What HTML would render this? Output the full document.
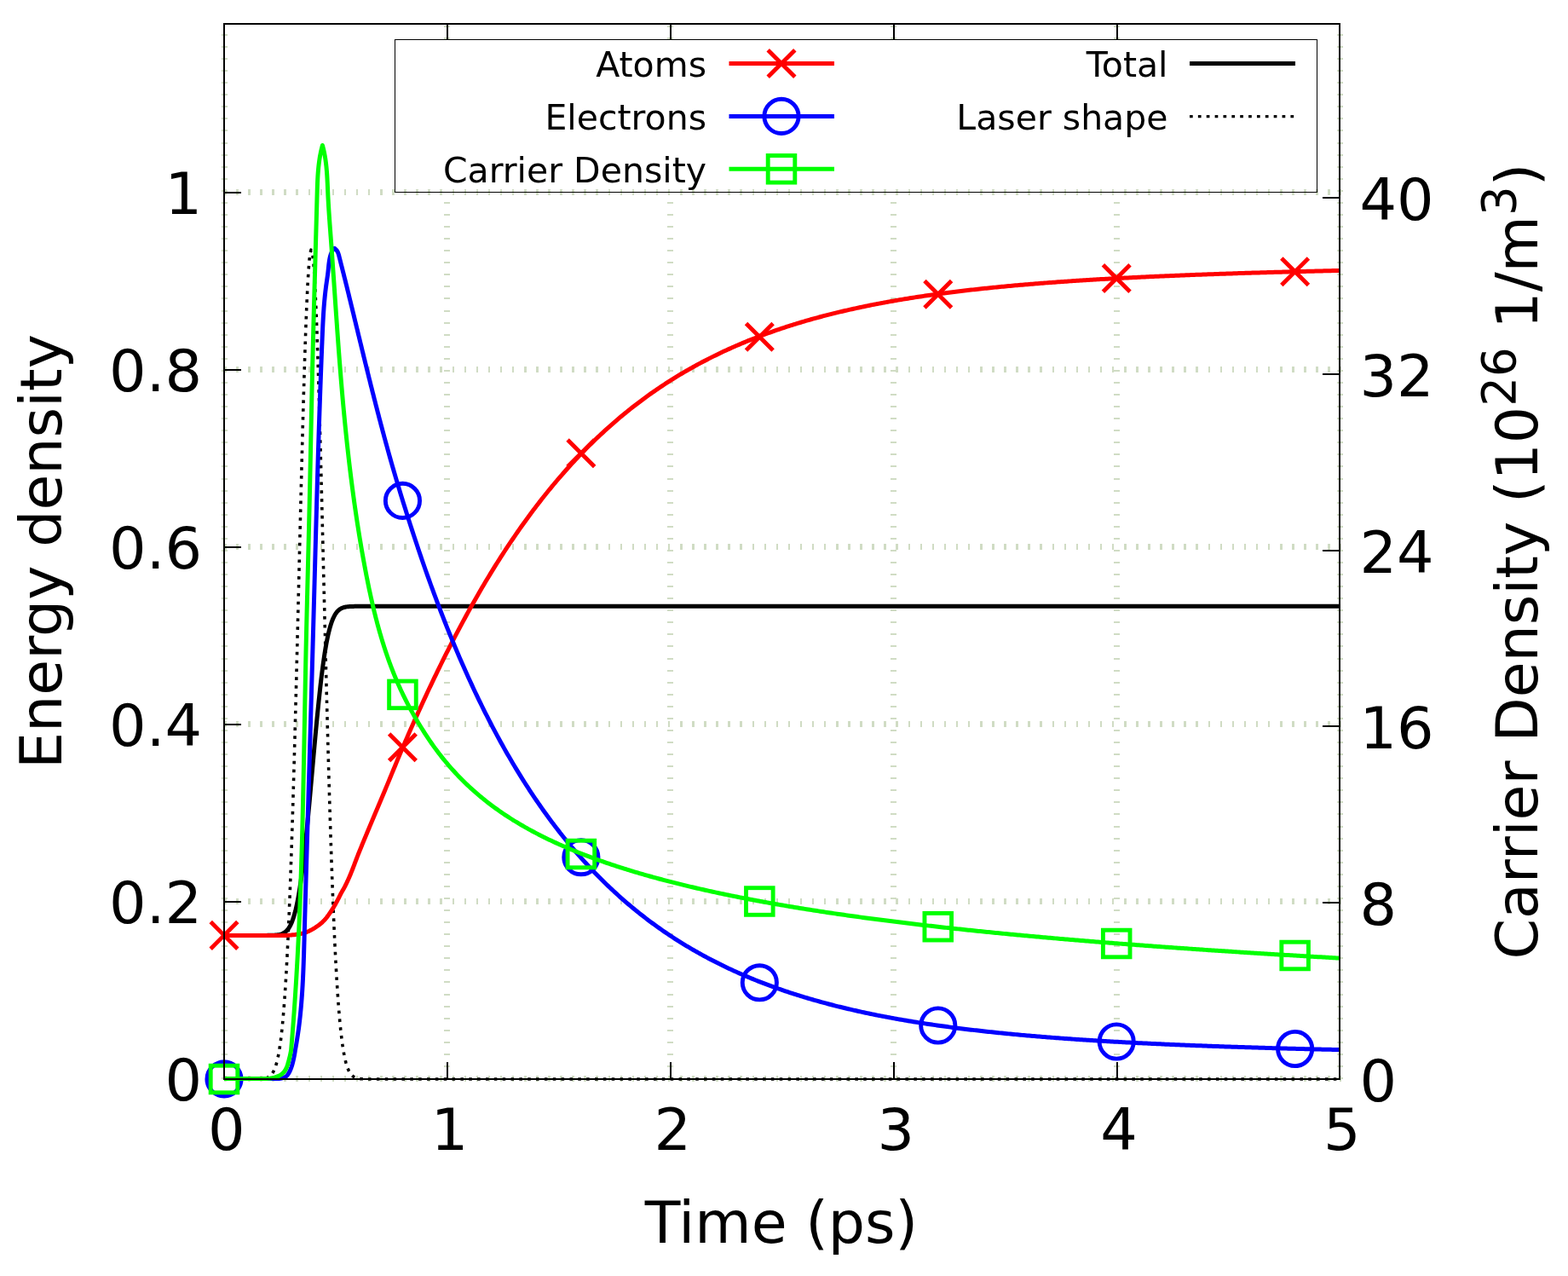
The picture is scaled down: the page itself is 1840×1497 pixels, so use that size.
<!DOCTYPE html>
<html lang="en">
<head>
<meta charset="utf-8">
<title>Energy density and carrier density vs time</title>
<style>
html,body{margin:0;padding:0;background:#ffffff;}
body{width:1840px;height:1497px;overflow:hidden;}
svg{display:block;}
</style>
</head>
<body>
<svg width="1840" height="1497" viewBox="0 0 1840 1497">
<rect width="1840" height="1497" fill="#ffffff"/>
<g stroke="#d0dcc4" stroke-width="7" fill="none" shape-rendering="crispEdges">
<path d="M263 1266V28" stroke-dasharray="2 12.07"/>
<path d="M524.8 1266V225.5M524.8 46.3V28" stroke-dasharray="2 12.07"/>
<path d="M786.6 1266V225.5M786.6 46.3V28" stroke-dasharray="2 12.07"/>
<path d="M1048.4 1266V225.5M1048.4 46.3V28" stroke-dasharray="2 12.07"/>
<path d="M1310.2 1266V225.5M1310.2 46.3V28" stroke-dasharray="2 12.07"/>
<path d="M1572 1266V28" stroke-dasharray="2 12.07"/>
</g>
<rect x="463.5" y="46.5" width="1082" height="179" fill="#ffffff"/>
<g stroke="#d0dcc4" stroke-width="7" fill="none" shape-rendering="crispEdges">
<path d="M263 1265.5H1574" stroke-dasharray="2.5 11.58"/>
<path d="M263 1057.5H1574" stroke-dasharray="2.5 11.58"/>
<path d="M263 849.5H1574" stroke-dasharray="2.5 11.58"/>
<path d="M263 641.5H1574" stroke-dasharray="2.5 11.58"/>
<path d="M263 433.5H1574" stroke-dasharray="2.5 11.58"/>
<path d="M263 225.5H1574" stroke-dasharray="2.5 11.58"/>
</g>
<g fill="none" stroke-linejoin="round" stroke-linecap="butt">
<path d="M263 1097.4 L264 1097.4 L265 1097.4 L266 1097.4 L267 1097.4 L268 1097.4 L269 1097.4 L270 1097.4 L271 1097.4 L272 1097.4 L273 1097.4 L274 1097.4 L275 1097.4 L276 1097.4 L277 1097.4 L278 1097.4 L279 1097.4 L280 1097.4 L281 1097.4 L282 1097.4 L283 1097.4 L284 1097.4 L285 1097.4 L286 1097.4 L287 1097.4 L288 1097.4 L289 1097.4 L290 1097.4 L291 1097.4 L292 1097.4 L293 1097.4 L294 1097.4 L295 1097.4 L296 1097.4 L297 1097.4 L298 1097.4 L299 1097.4 L300 1097.4 L301 1097.4 L302 1097.4 L303 1097.4 L304 1097.4 L305 1097.4 L306 1097.4 L307 1097.4 L308 1097.4 L309 1097.39 L310 1097.39 L311 1097.39 L312 1097.39 L313 1097.38 L314 1097.37 L315 1097.37 L316 1097.35 L317 1097.34 L318 1097.32 L319 1097.3 L320 1097.26 L321 1097.22 L322 1097.17 L323 1097.1 L324 1097.02 L325 1096.92 L326 1096.78 L327 1096.62 L328 1096.42 L329 1096.18 L330 1095.88 L331 1095.51 L332 1095.08 L333 1094.55 L334 1093.92 L335 1093.17 L336 1092.29 L337 1091.25 L338 1090.03 L339 1088.62 L340 1086.98 L341 1085.1 L342 1082.94 L343 1080.48 L344 1077.7 L345 1074.57 L346 1071.05 L347 1067.14 L348 1062.8 L349 1058.01 L350 1052.75 L351 1047.02 L352 1040.79 L353 1034.08 L354 1026.86 L355 1019.15 L356 1010.96 L357 1002.3 L358 993.19 L359 983.67 L360 973.77 L361 963.53 L362 952.98 L363 942.19 L364 931.2 L365 920.06 L366 908.85 L367 897.61 L368 886.4 L369 875.29 L370 864.34 L371 853.59 L372 843.1 L373 832.92 L374 823.09 L375 813.65 L376 804.63 L377 796.07 L378 787.97 L379 780.36 L380 773.24 L381 766.62 L382 760.5 L383 754.86 L384 749.7 L385 745 L386 740.75 L387 736.91 L388 733.48 L389 730.42 L390 727.7 L391 725.31 L392 723.21 L393 721.37 L394 719.78 L395 718.41 L396 717.23 L397 716.22 L398 715.37 L399 714.65 L400 714.04 L401 713.53 L402 713.11 L403 712.76 L404 712.47 L405 712.23 L406 712.04 L407 711.89 L408 711.76 L409 711.66 L410 711.58 L411 711.52 L412 711.47 L413 711.43 L414 711.4 L415 711.38 L416 711.36 L417 711.34 L418 711.33 L419 711.32 L420 711.32 L421 711.31 L422 711.31 L423 711.31 L424 711.31 L425 711.3 L426 711.3 L427 711.3 L428 711.3 L429 711.3 L430 711.3 L431 711.3 L432 711.3 L433 711.3 L434 711.3 L435 711.3 L436 711.3 L437 711.3 L438 711.3 L439 711.3 L440 711.3 L441 711.3 L442 711.3 L443 711.3 L444 711.3 L445 711.3 L446 711.3 L447 711.3 L448 711.3 L449 711.3 L450 711.3 L451 711.3 L452 711.3 L453 711.3 L454 711.3 L455 711.3 L456 711.3 L457 711.3 L458 711.3 L459 711.3 L1572 711.3" stroke="#000000" stroke-width="5.0"/>
<path d="M263 1266 L264 1266 L265 1266 L266 1266 L267 1266 L268 1266 L269 1266 L270 1266 L271 1266 L272 1266 L273 1266 L274 1266 L275 1266 L276 1266 L277 1266 L278 1266 L279 1266 L280 1266 L281 1266 L282 1266 L283 1266 L284 1266 L285 1266 L286 1266 L287 1266 L288 1266 L289 1266 L290 1266 L291 1266 L292 1266 L293 1266 L294 1265.99 L295 1265.99 L296 1265.99 L297 1265.99 L298 1265.98 L299 1265.97 L300 1265.96 L301 1265.95 L302 1265.93 L303 1265.9 L304 1265.87 L305 1265.83 L306 1265.77 L307 1265.7 L308 1265.6 L309 1265.48 L310 1265.32 L311 1265.12 L312 1264.87 L313 1264.54 L314 1264.14 L315 1263.63 L316 1262.99 L317 1262.21 L318 1261.24 L319 1260.06 L320 1258.61 L321 1256.85 L322 1254.74 L323 1252.19 L324 1249.16 L325 1245.55 L326 1241.29 L327 1236.28 L328 1230.42 L329 1223.62 L330 1215.75 L331 1206.7 L332 1196.36 L333 1184.6 L334 1171.31 L335 1156.38 L336 1139.68 L337 1121.14 L338 1100.66 L339 1078.18 L340 1053.66 L341 1027.08 L342 998.44 L343 967.8 L344 935.22 L345 900.82 L346 864.76 L347 827.23 L348 788.47 L349 748.74 L350 708.37 L351 667.71 L352 627.12 L353 587.02 L354 547.82 L355 509.96 L356 473.89 L357 440.03 L358 408.81 L359 380.64 L360 355.87 L361 334.86 L362 317.88 L363 305.16 L364 296.9 L365 293.21 L366 294.13 L367 299.66 L368 309.72 L369 324.17 L370 342.79 L371 365.35 L372 391.52 L373 420.96 L374 453.28 L375 488.08 L376 524.92 L377 563.36 L378 602.97 L379 643.32 L380 683.99 L381 724.58 L382 764.73 L383 804.1 L384 842.4 L385 879.37 L386 914.79 L387 948.48 L388 980.29 L389 1010.14 L390 1037.96 L391 1063.72 L392 1087.42 L393 1109.09 L394 1128.78 L395 1146.58 L396 1162.56 L397 1176.82 L398 1189.49 L399 1200.66 L400 1210.47 L401 1219.03 L402 1226.46 L403 1232.87 L404 1238.38 L405 1243.07 L406 1247.06 L407 1250.43 L408 1253.26 L409 1255.63 L410 1257.6 L411 1259.22 L412 1260.56 L413 1261.65 L414 1262.54 L415 1263.26 L416 1263.85 L417 1264.31 L418 1264.68 L419 1264.98 L420 1265.21 L421 1265.39 L422 1265.53 L423 1265.65 L424 1265.73 L425 1265.8 L426 1265.85 L427 1265.89 L428 1265.92 L429 1265.94 L430 1265.95 L431 1265.97 L432 1265.98 L433 1265.98 L434 1265.99 L435 1265.99 L436 1265.99 L437 1266 L438 1266 L439 1266 L440 1266 L441 1266 L442 1266 L443 1266 L444 1266 L445 1266 L446 1266 L447 1266 L448 1266 L449 1266 L450 1266 L451 1266 L452 1266 L453 1266 L454 1266 L455 1266 L456 1266 L457 1266 L458 1266 L459 1266 L460 1266 L461 1266 L462 1266 L463 1266 L464 1266 L465 1266 L466 1266 L467 1266 L468 1266 L469 1266 L470 1266 L471 1266 L472 1266 L473 1266 L474 1266 L475 1266 L476 1266 L477 1266 L478 1266 L479 1266 L480 1266 L481 1266 L482 1266 L483 1266 L484 1266 L485 1266 L486 1266 L487 1266 L488 1266 L489 1266 L490 1266 L491 1266 L492 1266 L493 1266 L494 1266 L495 1266 L496 1266 L497 1266 L498 1266 L499 1266 L500 1266 L501 1266 L502 1266 L503 1266 L504 1266 L505 1266 L506 1266 L507 1266 L508 1266 L509 1266 L510 1266 L511 1266 L512 1266 L513 1266 L514 1266 L515 1266 L516 1266 L517 1266 L518 1266 L519 1266 L520 1266 L521 1266 L522 1266 L523 1266 L524 1266 L525 1266 L526 1266 L527 1266 L528 1266 L529 1266 L530 1266 L531 1266 L532 1266 L533 1266 L534 1266 L535 1266 L536 1266 L537 1266 L538 1266 L539 1266 L540 1266 L541 1266 L542 1266 L543 1266 L544 1266 L545 1266 L546 1266 L547 1266 L548 1266 L549 1266 L550 1266 L551 1266 L552 1266 L553 1266 L554 1266 L555 1266 L556 1266 L557 1266 L558 1266 L559 1266 L560 1266 L561 1266 L562 1266 L563 1266 L564 1266 L565 1266 L566 1266 L567 1266 L568 1266 L569 1266 L570 1266 L571 1266 L572 1266 L573 1266 L574 1266 L575 1266 L576 1266 L577 1266 L578 1266 L579 1266 L580 1266 L581 1266 L582 1266 L583 1266 L584 1266 L585 1266 L586 1266 L587 1266 L588 1266 L589 1266 L590 1266 L591 1266 L592 1266 L593 1266 L594 1266 L595 1266 L596 1266 L597 1266 L598 1266 L599 1266 L600 1266 L601 1266 L602 1266 L603 1266 L604 1266 L605 1266 L606 1266 L607 1266 L608 1266 L609 1266 L610 1266 L611 1266 L612 1266 L613 1266 L614 1266 L615 1266 L616 1266 L617 1266 L618 1266 L619 1266 L620 1266 L621 1266 L622 1266 L623 1266 L624 1266 L625 1266 L626 1266 L627 1266 L628 1266 L629 1266 L630 1266 L631 1266 L632 1266 L633 1266 L634 1266 L635 1266 L636 1266 L637 1266 L638 1266 L639 1266 L640 1266 L641 1266 L642 1266 L643 1266 L644 1266 L645 1266 L646 1266 L647 1266 L648 1266 L649 1266 L650 1266 L651 1266 L652 1266 L653 1266 L654 1266 L655 1266 L656 1266 L657 1266 L658 1266 L659 1266 L660 1266 L661 1266 L662 1266 L663 1266 L664 1266 L665 1266 L666 1266 L667 1266 L668 1266 L669 1266 L670 1266 L671 1266 L672 1266 L673 1266 L674 1266 L675 1266 L676 1266 L677 1266 L678 1266 L679 1266 L680 1266 L681 1266 L682 1266 L683 1266 L684 1266 L685 1266 L686 1266 L687 1266 L688 1266 L689 1266 L690 1266 L691 1266 L692 1266 L693 1266 L694 1266 L695 1266 L696 1266 L697 1266 L698 1266 L699 1266 L700 1266 L701 1266 L702 1266 L703 1266 L704 1266 L705 1266 L706 1266 L707 1266 L708 1266 L709 1266 L710 1266 L711 1266 L712 1266 L713 1266 L714 1266 L715 1266 L716 1266 L717 1266 L718 1266 L719 1266 L720 1266 L721 1266 L722 1266 L723 1266 L724 1266 L725 1266 L726 1266 L727 1266 L728 1266 L729 1266 L730 1266 L731 1266 L732 1266 L733 1266 L734 1266 L735 1266 L736 1266 L737 1266 L738 1266 L739 1266 L740 1266 L741 1266 L742 1266 L743 1266 L744 1266 L745 1266 L746 1266 L747 1266 L748 1266 L749 1266 L750 1266 L751 1266 L752 1266 L753 1266 L754 1266 L755 1266 L756 1266 L757 1266 L758 1266 L759 1266 L760 1266 L761 1266 L762 1266 L763 1266 L764 1266 L765 1266 L766 1266 L767 1266 L768 1266 L769 1266 L770 1266 L771 1266 L772 1266 L773 1266 L774 1266 L775 1266 L776 1266 L777 1266 L778 1266 L779 1266 L780 1266 L781 1266 L782 1266 L783 1266 L784 1266 L785 1266 L786 1266 L787 1266 L788 1266 L789 1266 L790 1266 L791 1266 L792 1266 L793 1266 L794 1266 L795 1266 L796 1266 L797 1266 L798 1266 L799 1266 L800 1266 L801 1266 L802 1266 L803 1266 L804 1266 L805 1266 L806 1266 L807 1266 L808 1266 L809 1266 L810 1266 L811 1266 L812 1266 L813 1266 L814 1266 L815 1266 L816 1266 L817 1266 L818 1266 L819 1266 L820 1266 L821 1266 L822 1266 L823 1266 L824 1266 L825 1266 L826 1266 L827 1266 L828 1266 L829 1266 L830 1266 L831 1266 L832 1266 L833 1266 L834 1266 L835 1266 L836 1266 L837 1266 L838 1266 L839 1266 L840 1266 L841 1266 L842 1266 L843 1266 L844 1266 L845 1266 L846 1266 L847 1266 L848 1266 L849 1266 L850 1266 L851 1266 L852 1266 L853 1266 L854 1266 L855 1266 L856 1266 L857 1266 L858 1266 L859 1266 L860 1266 L861 1266 L862 1266 L863 1266 L864 1266 L865 1266 L866 1266 L867 1266 L868 1266 L869 1266 L870 1266 L871 1266 L872 1266 L873 1266 L874 1266 L875 1266 L876 1266 L877 1266 L878 1266 L879 1266 L880 1266 L881 1266 L882 1266 L883 1266 L884 1266 L885 1266 L886 1266 L887 1266 L888 1266 L889 1266 L890 1266 L891 1266 L892 1266 L893 1266 L894 1266 L895 1266 L896 1266 L897 1266 L898 1266 L899 1266 L900 1266 L901 1266 L902 1266 L903 1266 L904 1266 L905 1266 L906 1266 L907 1266 L908 1266 L909 1266 L910 1266 L911 1266 L912 1266 L913 1266 L914 1266 L915 1266 L916 1266 L917 1266 L918 1266 L919 1266 L920 1266 L921 1266 L922 1266 L923 1266 L924 1266 L925 1266 L926 1266 L927 1266 L928 1266 L929 1266 L930 1266 L931 1266 L932 1266 L933 1266 L934 1266 L935 1266 L936 1266 L937 1266 L938 1266 L939 1266 L940 1266 L941 1266 L942 1266 L943 1266 L944 1266 L945 1266 L946 1266 L947 1266 L948 1266 L949 1266 L950 1266 L951 1266 L952 1266 L953 1266 L954 1266 L955 1266 L956 1266 L957 1266 L958 1266 L959 1266 L960 1266 L961 1266 L962 1266 L963 1266 L964 1266 L965 1266 L966 1266 L967 1266 L968 1266 L969 1266 L970 1266 L971 1266 L972 1266 L973 1266 L974 1266 L975 1266 L976 1266 L977 1266 L978 1266 L979 1266 L980 1266 L981 1266 L982 1266 L983 1266 L984 1266 L985 1266 L986 1266 L987 1266 L988 1266 L989 1266 L990 1266 L991 1266 L992 1266 L993 1266 L994 1266 L995 1266 L996 1266 L997 1266 L998 1266 L999 1266 L1000 1266 L1001 1266 L1002 1266 L1003 1266 L1004 1266 L1005 1266 L1006 1266 L1007 1266 L1008 1266 L1009 1266 L1010 1266 L1011 1266 L1012 1266 L1013 1266 L1014 1266 L1015 1266 L1016 1266 L1017 1266 L1018 1266 L1019 1266 L1020 1266 L1021 1266 L1022 1266 L1023 1266 L1024 1266 L1025 1266 L1026 1266 L1027 1266 L1028 1266 L1029 1266 L1030 1266 L1031 1266 L1032 1266 L1033 1266 L1034 1266 L1035 1266 L1036 1266 L1037 1266 L1038 1266 L1039 1266 L1040 1266 L1041 1266 L1042 1266 L1043 1266 L1044 1266 L1045 1266 L1046 1266 L1047 1266 L1048 1266 L1049 1266 L1050 1266 L1051 1266 L1052 1266 L1053 1266 L1054 1266 L1055 1266 L1056 1266 L1057 1266 L1058 1266 L1059 1266 L1060 1266 L1061 1266 L1062 1266 L1063 1266 L1064 1266 L1065 1266 L1066 1266 L1067 1266 L1068 1266 L1069 1266 L1070 1266 L1071 1266 L1072 1266 L1073 1266 L1074 1266 L1075 1266 L1076 1266 L1077 1266 L1078 1266 L1079 1266 L1080 1266 L1081 1266 L1082 1266 L1083 1266 L1084 1266 L1085 1266 L1086 1266 L1087 1266 L1088 1266 L1089 1266 L1090 1266 L1091 1266 L1092 1266 L1093 1266 L1094 1266 L1095 1266 L1096 1266 L1097 1266 L1098 1266 L1099 1266 L1100 1266 L1101 1266 L1102 1266 L1103 1266 L1104 1266 L1105 1266 L1106 1266 L1107 1266 L1108 1266 L1109 1266 L1110 1266 L1111 1266 L1112 1266 L1113 1266 L1114 1266 L1115 1266 L1116 1266 L1117 1266 L1118 1266 L1119 1266 L1120 1266 L1121 1266 L1122 1266 L1123 1266 L1124 1266 L1125 1266 L1126 1266 L1127 1266 L1128 1266 L1129 1266 L1130 1266 L1131 1266 L1132 1266 L1133 1266 L1134 1266 L1135 1266 L1136 1266 L1137 1266 L1138 1266 L1139 1266 L1140 1266 L1141 1266 L1142 1266 L1143 1266 L1144 1266 L1145 1266 L1146 1266 L1147 1266 L1148 1266 L1149 1266 L1150 1266 L1151 1266 L1152 1266 L1153 1266 L1154 1266 L1155 1266 L1156 1266 L1157 1266 L1158 1266 L1159 1266 L1160 1266 L1161 1266 L1162 1266 L1163 1266 L1164 1266 L1165 1266 L1166 1266 L1167 1266 L1168 1266 L1169 1266 L1170 1266 L1171 1266 L1172 1266 L1173 1266 L1174 1266 L1175 1266 L1176 1266 L1177 1266 L1178 1266 L1179 1266 L1180 1266 L1181 1266 L1182 1266 L1183 1266 L1184 1266 L1185 1266 L1186 1266 L1187 1266 L1188 1266 L1189 1266 L1190 1266 L1191 1266 L1192 1266 L1193 1266 L1194 1266 L1195 1266 L1196 1266 L1197 1266 L1198 1266 L1199 1266 L1200 1266 L1201 1266 L1202 1266 L1203 1266 L1204 1266 L1205 1266 L1206 1266 L1207 1266 L1208 1266 L1209 1266 L1210 1266 L1211 1266 L1212 1266 L1213 1266 L1214 1266 L1215 1266 L1216 1266 L1217 1266 L1218 1266 L1219 1266 L1220 1266 L1221 1266 L1222 1266 L1223 1266 L1224 1266 L1225 1266 L1226 1266 L1227 1266 L1228 1266 L1229 1266 L1230 1266 L1231 1266 L1232 1266 L1233 1266 L1234 1266 L1235 1266 L1236 1266 L1237 1266 L1238 1266 L1239 1266 L1240 1266 L1241 1266 L1242 1266 L1243 1266 L1244 1266 L1245 1266 L1246 1266 L1247 1266 L1248 1266 L1249 1266 L1250 1266 L1251 1266 L1252 1266 L1253 1266 L1254 1266 L1255 1266 L1256 1266 L1257 1266 L1258 1266 L1259 1266 L1260 1266 L1261 1266 L1262 1266 L1263 1266 L1264 1266 L1265 1266 L1266 1266 L1267 1266 L1268 1266 L1269 1266 L1270 1266 L1271 1266 L1272 1266 L1273 1266 L1274 1266 L1275 1266 L1276 1266 L1277 1266 L1278 1266 L1279 1266 L1280 1266 L1281 1266 L1282 1266 L1283 1266 L1284 1266 L1285 1266 L1286 1266 L1287 1266 L1288 1266 L1289 1266 L1290 1266 L1291 1266 L1292 1266 L1293 1266 L1294 1266 L1295 1266 L1296 1266 L1297 1266 L1298 1266 L1299 1266 L1300 1266 L1301 1266 L1302 1266 L1303 1266 L1304 1266 L1305 1266 L1306 1266 L1307 1266 L1308 1266 L1309 1266 L1310 1266 L1311 1266 L1312 1266 L1313 1266 L1314 1266 L1315 1266 L1316 1266 L1317 1266 L1318 1266 L1319 1266 L1320 1266 L1321 1266 L1322 1266 L1323 1266 L1324 1266 L1325 1266 L1326 1266 L1327 1266 L1328 1266 L1329 1266 L1330 1266 L1331 1266 L1332 1266 L1333 1266 L1334 1266 L1335 1266 L1336 1266 L1337 1266 L1338 1266 L1339 1266 L1340 1266 L1341 1266 L1342 1266 L1343 1266 L1344 1266 L1345 1266 L1346 1266 L1347 1266 L1348 1266 L1349 1266 L1350 1266 L1351 1266 L1352 1266 L1353 1266 L1354 1266 L1355 1266 L1356 1266 L1357 1266 L1358 1266 L1359 1266 L1360 1266 L1361 1266 L1362 1266 L1363 1266 L1364 1266 L1365 1266 L1366 1266 L1367 1266 L1368 1266 L1369 1266 L1370 1266 L1371 1266 L1372 1266 L1373 1266 L1374 1266 L1375 1266 L1376 1266 L1377 1266 L1378 1266 L1379 1266 L1380 1266 L1381 1266 L1382 1266 L1383 1266 L1384 1266 L1385 1266 L1386 1266 L1387 1266 L1388 1266 L1389 1266 L1390 1266 L1391 1266 L1392 1266 L1393 1266 L1394 1266 L1395 1266 L1396 1266 L1397 1266 L1398 1266 L1399 1266 L1400 1266 L1401 1266 L1402 1266 L1403 1266 L1404 1266 L1405 1266 L1406 1266 L1407 1266 L1408 1266 L1409 1266 L1410 1266 L1411 1266 L1412 1266 L1413 1266 L1414 1266 L1415 1266 L1416 1266 L1417 1266 L1418 1266 L1419 1266 L1420 1266 L1421 1266 L1422 1266 L1423 1266 L1424 1266 L1425 1266 L1426 1266 L1427 1266 L1428 1266 L1429 1266 L1430 1266 L1431 1266 L1432 1266 L1433 1266 L1434 1266 L1435 1266 L1436 1266 L1437 1266 L1438 1266 L1439 1266 L1440 1266 L1441 1266 L1442 1266 L1443 1266 L1444 1266 L1445 1266 L1446 1266 L1447 1266 L1448 1266 L1449 1266 L1450 1266 L1451 1266 L1452 1266 L1453 1266 L1454 1266 L1455 1266 L1456 1266 L1457 1266 L1458 1266 L1459 1266 L1460 1266 L1461 1266 L1462 1266 L1463 1266 L1464 1266 L1465 1266 L1466 1266 L1467 1266 L1468 1266 L1469 1266 L1470 1266 L1471 1266 L1472 1266 L1473 1266 L1474 1266 L1475 1266 L1476 1266 L1477 1266 L1478 1266 L1479 1266 L1480 1266 L1481 1266 L1482 1266 L1483 1266 L1484 1266 L1485 1266 L1486 1266 L1487 1266 L1488 1266 L1489 1266 L1490 1266 L1491 1266 L1492 1266 L1493 1266 L1494 1266 L1495 1266 L1496 1266 L1497 1266 L1498 1266 L1499 1266 L1500 1266 L1501 1266 L1502 1266 L1503 1266 L1504 1266 L1505 1266 L1506 1266 L1507 1266 L1508 1266 L1509 1266 L1510 1266 L1511 1266 L1512 1266 L1513 1266 L1514 1266 L1515 1266 L1516 1266 L1517 1266 L1518 1266 L1519 1266 L1520 1266 L1521 1266 L1522 1266 L1523 1266 L1524 1266 L1525 1266 L1526 1266 L1527 1266 L1528 1266 L1529 1266 L1530 1266 L1531 1266 L1532 1266 L1533 1266 L1534 1266 L1535 1266 L1536 1266 L1537 1266 L1538 1266 L1539 1266 L1540 1266 L1541 1266 L1542 1266 L1543 1266 L1544 1266 L1545 1266 L1546 1266 L1547 1266 L1548 1266 L1549 1266 L1550 1266 L1551 1266 L1552 1266 L1553 1266 L1554 1266 L1555 1266 L1556 1266 L1557 1266 L1558 1266 L1559 1266 L1560 1266 L1561 1266 L1562 1266 L1563 1266 L1564 1266 L1565 1266 L1566 1266 L1567 1266 L1568 1266 L1569 1266 L1570 1266 L1571 1266 L1572 1266" stroke="#000000" stroke-width="3.6" stroke-dasharray="3.6 6.25"/>
<path d="M263 1097.4 L336 1097.4 L337.5 1097.33 L339 1097.24 L340.5 1097.13 L341.99 1097 L343.48 1096.86 L344.97 1096.7 L346.46 1096.53 L347.95 1096.32 L349.43 1096.08 L350.91 1095.81 L352.38 1095.52 L353.85 1095.2 L355.31 1094.84 L356.77 1094.44 L358.21 1094.01 L359.62 1093.54 L361.01 1093.02 L362.38 1092.43 L363.74 1091.78 L365.08 1091.09 L366.41 1090.35 L367.71 1089.58 L369 1088.8 L370.25 1088 L371.5 1087.18 L372.74 1086.32 L373.96 1085.43 L375.17 1084.51 L376.35 1083.55 L377.5 1082.57 L378.61 1081.56 L379.67 1080.53 L380.69 1079.48 L381.68 1078.38 L382.64 1077.25 L383.57 1076.08 L384.48 1074.88 L385.37 1073.65 L386.25 1072.41 L387.1 1071.16 L387.95 1069.9 L388.78 1068.63 L389.6 1067.37 L390.41 1066.12 L391.21 1064.85 L391.98 1063.56 L392.74 1062.27 L393.49 1060.96 L394.22 1059.65 L394.94 1058.34 L395.66 1057.02 L396.35 1055.69 L397.03 1054.35 L397.7 1053.01 L398.37 1051.67 L399.05 1050.33 L399.73 1048.99 L400.44 1047.67 L401.17 1046.36 L401.91 1045.05 L402.66 1043.75 L403.4 1042.45 L404.13 1041.14 L404.83 1039.82 L405.51 1038.48 L406.18 1037.14 L406.83 1035.79 L407.47 1034.43 L408.1 1033.07 L408.72 1031.7 L409.33 1030.33 L409.93 1028.95 L410.52 1027.58 L411.1 1026.2 L411.68 1024.81 L412.24 1023.42 L412.8 1022.03 L413.35 1020.64 L413.89 1019.24 L414.43 1017.84 L414.97 1016.44 L415.51 1015.03 L416.04 1013.63 L416.57 1012.23 L417.1 1010.82 L417.63 1009.42 L418.17 1008.02 L418.7 1006.62 L419.24 1005.21 L419.79 1003.82 L420.33 1002.42 L420.89 1001.03 L421.45 999.63 L422.01 998.24 L422.57 996.85 L423.14 995.46 L423.7 994.08 L424.27 992.69 L424.84 991.3 L425.41 989.91 L425.98 988.52 L426.55 987.14 L427.13 985.75 L427.7 984.37 L428.27 982.98 L428.85 981.59 L429.43 980.21 L430 978.83 L430.58 977.44 L431.16 976.06 L431.74 974.67 L432.32 973.29 L432.9 971.91 L433.48 970.52 L434.06 969.14 L434.64 967.76 L435.22 966.37 L435.8 964.99 L436.38 963.61 L436.96 962.22 L437.55 960.84 L438.13 959.46 L438.71 958.08 L439.29 956.69 L439.87 955.31 L440.45 953.93 L441.03 952.54 L441.61 951.16 L443.6 946.43 L445.6 941.68 L447.6 936.94 L449.6 932.19 L451.6 927.43 L453.6 922.65 L455.6 917.84 L457.6 913.02 L459.6 908.17 L461.6 903.31 L463.6 898.46 L465.6 893.62 L467.6 888.82 L469.6 884.07 L471.6 879.36 L473.6 874.69 L475.6 870.06 L477.6 865.46 L479.6 860.87 L481.6 856.32 L483.6 851.8 L485.6 847.31 L487.6 842.84 L489.6 838.4 L491.6 833.98 L493.6 829.59 L495.6 825.23 L497.6 820.89 L499.6 816.58 L501.6 812.3 L503.6 808.04 L505.6 803.81 L507.6 799.61 L509.6 795.44 L511.6 791.29 L513.6 787.17 L515.6 783.07 L517.6 779.01 L519.6 774.97 L521.6 770.96 L523.6 766.97 L525.6 763.01 L527.6 759.08 L529.6 755.18 L531.6 751.31 L533.6 747.46 L535.6 743.64 L537.6 739.84 L539.6 736.08 L541.6 732.34 L543.6 728.63 L545.6 724.94 L547.6 721.29 L549.6 717.65 L551.6 714.05 L553.6 710.47 L555.6 706.92 L557.6 703.4 L559.6 699.9 L561.6 696.43 L563.6 692.99 L565.6 689.57 L567.6 686.18 L569.6 682.82 L571.6 679.48 L573.6 676.17 L575.6 672.88 L577.6 669.62 L579.6 666.39 L581.6 663.18 L583.6 659.99 L585.6 656.84 L587.6 653.7 L589.6 650.6 L591.6 647.51 L593.6 644.46 L595.6 641.42 L597.6 638.42 L599.6 635.43 L601.6 632.48 L603.6 629.54 L605.6 626.63 L607.6 623.75 L609.6 620.89 L611.6 618.05 L613.6 615.23 L615.6 612.44 L617.6 609.68 L619.6 606.94 L621.6 604.22 L623.6 601.52 L625.6 598.85 L627.6 596.19 L629.6 593.57 L631.6 590.96 L633.6 588.38 L635.6 585.82 L637.6 583.28 L639.6 580.76 L641.6 578.27 L643.6 575.79 L645.6 573.34 L647.6 570.91 L649.6 568.5 L651.6 566.12 L653.6 563.75 L655.6 561.4 L657.6 559.08 L659.6 556.78 L661.6 554.49 L663.6 552.23 L665.6 549.99 L667.6 547.76 L669.6 545.56 L671.6 543.38 L673.6 541.21 L675.6 539.07 L677.6 536.94 L679.6 534.84 L681.6 532.75 L683.6 530.68 L685.6 528.63 L687.6 526.6 L689.6 524.59 L691.6 522.6 L693.6 520.62 L695.6 518.66 L697.6 516.72 L699.6 514.8 L701.6 512.9 L703.6 511.01 L705.6 509.14 L707.6 507.29 L709.6 505.46 L711.6 503.64 L713.6 501.84 L715.6 500.05 L717.6 498.28 L719.6 496.53 L721.6 494.8 L723.6 493.08 L725.6 491.38 L727.6 489.69 L729.6 488.02 L731.6 486.36 L733.6 484.72 L735.6 483.1 L737.6 481.49 L739.6 479.9 L741.6 478.32 L743.6 476.75 L745.6 475.2 L747.6 473.67 L749.6 472.15 L751.6 470.64 L753.6 469.15 L755.6 467.67 L757.6 466.21 L759.6 464.76 L761.6 463.32 L763.6 461.9 L765.6 460.49 L767.6 459.1 L769.6 457.72 L771.6 456.35 L773.6 454.99 L775.6 453.65 L777.6 452.32 L779.6 451 L781.6 449.7 L783.6 448.41 L785.6 447.13 L787.6 445.86 L789.6 444.61 L791.6 443.36 L793.6 442.13 L795.6 440.91 L797.6 439.71 L799.6 438.51 L801.6 437.33 L803.6 436.16 L805.6 434.99 L807.6 433.84 L809.6 432.71 L811.6 431.58 L813.6 430.46 L815.6 429.35 L817.6 428.26 L819.6 427.17 L821.6 426.1 L823.6 425.04 L825.6 423.98 L827.6 422.94 L829.6 421.91 L831.6 420.88 L833.6 419.87 L835.6 418.87 L837.6 417.87 L839.6 416.89 L841.6 415.92 L843.6 414.95 L845.6 414 L847.6 413.05 L849.6 412.11 L851.6 411.19 L853.6 410.27 L855.6 409.36 L857.6 408.46 L859.6 407.57 L861.6 406.68 L863.6 405.81 L865.6 404.94 L867.6 404.09 L869.6 403.24 L871.6 402.4 L873.6 401.57 L875.6 400.74 L877.6 399.92 L879.6 399.12 L881.6 398.32 L883.6 397.52 L885.6 396.74 L887.6 395.96 L889.6 395.19 L891.6 394.43 L893.6 393.68 L895.6 392.93 L897.6 392.19 L899.6 391.46 L901.6 390.73 L903.6 390.02 L905.6 389.31 L907.6 388.6 L909.6 387.91 L911.6 387.22 L913.6 386.53 L915.6 385.86 L917.6 385.19 L919.6 384.52 L921.6 383.87 L923.6 383.22 L925.6 382.57 L927.6 381.93 L929.6 381.3 L931.6 380.68 L933.6 380.06 L935.6 379.45 L937.6 378.84 L939.6 378.24 L941.6 377.64 L943.6 377.05 L945.6 376.47 L947.6 375.89 L949.6 375.32 L951.6 374.75 L953.6 374.19 L955.6 373.64 L957.6 373.09 L959.6 372.54 L961.6 372.01 L963.6 371.47 L965.6 370.94 L967.6 370.42 L969.6 369.9 L971.6 369.39 L973.6 368.88 L975.6 368.38 L977.6 367.88 L979.6 367.39 L981.6 366.9 L983.6 366.41 L985.6 365.93 L987.6 365.46 L989.6 364.99 L991.6 364.53 L993.6 364.06 L995.6 363.61 L997.6 363.16 L999.6 362.71 L1001.6 362.27 L1003.6 361.83 L1005.6 361.39 L1007.6 360.96 L1009.6 360.54 L1011.6 360.12 L1013.6 359.7 L1015.6 359.29 L1017.6 358.88 L1019.6 358.47 L1021.6 358.07 L1023.6 357.67 L1025.6 357.28 L1027.6 356.89 L1029.6 356.5 L1031.6 356.12 L1033.6 355.74 L1035.6 355.37 L1037.6 355 L1039.6 354.63 L1041.6 354.26 L1043.6 353.9 L1045.6 353.55 L1047.6 353.19 L1049.6 352.84 L1051.6 352.49 L1053.6 352.15 L1055.6 351.81 L1057.6 351.47 L1059.6 351.14 L1061.6 350.81 L1063.6 350.48 L1065.6 350.16 L1067.6 349.84 L1069.6 349.52 L1071.6 349.2 L1073.6 348.89 L1075.6 348.58 L1077.6 348.28 L1079.6 347.97 L1081.6 347.67 L1083.6 347.38 L1085.6 347.08 L1087.6 346.79 L1089.6 346.5 L1091.6 346.21 L1093.6 345.93 L1095.6 345.65 L1097.6 345.37 L1099.6 345.1 L1101.6 344.82 L1103.6 344.55 L1105.6 344.29 L1107.6 344.02 L1109.6 343.76 L1111.6 343.5 L1113.6 343.24 L1115.6 342.98 L1117.6 342.73 L1119.6 342.48 L1121.6 342.23 L1123.6 341.99 L1125.6 341.74 L1127.6 341.5 L1129.6 341.26 L1131.6 341.03 L1133.6 340.79 L1135.6 340.56 L1137.6 340.33 L1139.6 340.1 L1141.6 339.87 L1143.6 339.65 L1145.6 339.43 L1147.6 339.21 L1149.6 338.99 L1151.6 338.78 L1153.6 338.56 L1155.6 338.35 L1157.6 338.14 L1159.6 337.93 L1161.6 337.73 L1163.6 337.52 L1165.6 337.32 L1167.6 337.12 L1169.6 336.92 L1171.6 336.72 L1173.6 336.53 L1175.6 336.34 L1177.6 336.15 L1179.6 335.96 L1181.6 335.77 L1183.6 335.58 L1185.6 335.4 L1187.6 335.21 L1189.6 335.03 L1191.6 334.85 L1193.6 334.68 L1195.6 334.5 L1197.6 334.32 L1199.6 334.15 L1201.6 333.98 L1203.6 333.81 L1205.6 333.64 L1207.6 333.47 L1209.6 333.31 L1211.6 333.14 L1213.6 332.98 L1215.6 332.82 L1217.6 332.66 L1219.6 332.5 L1221.6 332.34 L1223.6 332.19 L1225.6 332.03 L1227.6 331.88 L1229.6 331.73 L1231.6 331.58 L1233.6 331.43 L1235.6 331.28 L1237.6 331.14 L1239.6 330.99 L1241.6 330.85 L1243.6 330.7 L1245.6 330.56 L1247.6 330.42 L1249.6 330.28 L1251.6 330.14 L1253.6 330.01 L1255.6 329.87 L1257.6 329.74 L1259.6 329.6 L1261.6 329.47 L1263.6 329.34 L1265.6 329.21 L1267.6 329.08 L1269.6 328.96 L1271.6 328.83 L1273.6 328.7 L1275.6 328.58 L1277.6 328.45 L1279.6 328.33 L1281.6 328.21 L1283.6 328.09 L1285.6 327.97 L1287.6 327.85 L1289.6 327.74 L1291.6 327.62 L1293.6 327.5 L1295.6 327.39 L1297.6 327.27 L1299.6 327.16 L1301.6 327.05 L1303.6 326.94 L1305.6 326.83 L1307.6 326.72 L1309.6 326.61 L1311.6 326.5 L1313.6 326.4 L1315.6 326.29 L1317.6 326.19 L1319.6 326.08 L1321.6 325.98 L1323.6 325.88 L1325.6 325.78 L1327.6 325.68 L1329.6 325.58 L1331.6 325.48 L1333.6 325.38 L1335.6 325.28 L1337.6 325.18 L1339.6 325.09 L1341.6 324.99 L1343.6 324.9 L1345.6 324.8 L1347.6 324.71 L1349.6 324.62 L1351.6 324.53 L1353.6 324.43 L1355.6 324.34 L1357.6 324.25 L1359.6 324.16 L1361.6 324.08 L1363.6 323.99 L1365.6 323.9 L1367.6 323.82 L1369.6 323.73 L1371.6 323.64 L1373.6 323.56 L1375.6 323.48 L1377.6 323.39 L1379.6 323.31 L1381.6 323.23 L1383.6 323.15 L1385.6 323.07 L1387.6 322.98 L1389.6 322.9 L1391.6 322.83 L1393.6 322.75 L1395.6 322.67 L1397.6 322.59 L1399.6 322.51 L1401.6 322.44 L1403.6 322.36 L1405.6 322.29 L1407.6 322.21 L1409.6 322.14 L1411.6 322.06 L1413.6 321.99 L1415.6 321.92 L1417.6 321.85 L1419.6 321.77 L1421.6 321.7 L1423.6 321.63 L1425.6 321.56 L1427.6 321.49 L1429.6 321.42 L1431.6 321.35 L1433.6 321.28 L1435.6 321.22 L1437.6 321.15 L1439.6 321.08 L1441.6 321.01 L1443.6 320.95 L1445.6 320.88 L1447.6 320.82 L1449.6 320.75 L1451.6 320.69 L1453.6 320.62 L1455.6 320.56 L1457.6 320.5 L1459.6 320.43 L1461.6 320.37 L1463.6 320.31 L1465.6 320.25 L1467.6 320.19 L1469.6 320.12 L1471.6 320.06 L1473.6 320 L1475.6 319.94 L1477.6 319.88 L1479.6 319.83 L1481.6 319.77 L1483.6 319.71 L1485.6 319.65 L1487.6 319.59 L1489.6 319.53 L1491.6 319.48 L1493.6 319.42 L1495.6 319.36 L1497.6 319.31 L1499.6 319.25 L1501.6 319.2 L1503.6 319.14 L1505.6 319.09 L1507.6 319.03 L1509.6 318.98 L1511.6 318.93 L1513.6 318.87 L1515.6 318.82 L1517.6 318.77 L1519.6 318.71 L1521.6 318.66 L1523.6 318.61 L1525.6 318.56 L1527.6 318.51 L1529.6 318.45 L1531.6 318.4 L1533.6 318.35 L1535.6 318.3 L1537.6 318.25 L1539.6 318.2 L1541.6 318.15 L1543.6 318.1 L1545.6 318.05 L1547.6 318 L1549.6 317.96 L1551.6 317.91 L1553.6 317.86 L1555.6 317.81 L1557.6 317.76 L1559.6 317.72 L1561.6 317.67 L1563.6 317.62 L1565.6 317.58 L1567.6 317.53 L1569.6 317.48 L1571.6 317.44 L1572 317.43" stroke="#ff0000" stroke-width="5.0"/>
<path d="M247.2 1081.6L278.8 1113.2M247.2 1113.2L278.8 1081.6" stroke="#ff0000" stroke-width="4.9" fill="none"/>
<path d="M456.64 861L488.24 892.6M456.64 892.6L488.24 861" stroke="#ff0000" stroke-width="4.9" fill="none"/>
<path d="M666.08 515.9L697.68 547.5M666.08 547.5L697.68 515.9" stroke="#ff0000" stroke-width="4.9" fill="none"/>
<path d="M875.52 379.4L907.12 411M875.52 411L907.12 379.4" stroke="#ff0000" stroke-width="4.9" fill="none"/>
<path d="M1084.96 329.4L1116.56 361M1084.96 361L1116.56 329.4" stroke="#ff0000" stroke-width="4.9" fill="none"/>
<path d="M1294.4 310.7L1326 342.3M1294.4 342.3L1326 310.7" stroke="#ff0000" stroke-width="4.9" fill="none"/>
<path d="M1503.84 302.9L1535.44 334.5M1503.84 334.5L1535.44 302.9" stroke="#ff0000" stroke-width="4.9" fill="none"/>
<path d="M263 1265.5 L326 1265.5 L327.52 1265.43 L329.02 1265.25 L330.48 1265 L331.95 1264.68 L333.44 1264.18 L334.79 1263.55 L335.9 1262.78 L336.92 1261.76 L337.87 1260.54 L338.74 1259.21 L339.52 1257.81 L340.2 1256.44 L340.79 1255.11 L341.34 1253.74 L341.85 1252.34 L342.32 1250.91 L342.76 1249.46 L343.17 1247.99 L343.56 1246.52 L343.92 1245.05 L344.27 1243.58 L344.6 1242.12 L344.91 1240.66 L345.21 1239.19 L345.5 1237.72 L345.76 1236.24 L346.01 1234.76 L346.23 1233.27 L346.4 1232 L346.77 1230.03 L347.14 1228.06 L347.49 1226.08 L347.83 1224.11 L348.17 1222.14 L348.49 1220.16 L348.81 1218.18 L349.12 1216.21 L349.42 1214.23 L349.71 1212.25 L349.99 1210.27 L350.27 1208.29 L350.54 1206.31 L350.8 1204.32 L351.05 1202.34 L351.29 1200.36 L351.53 1198.37 L351.76 1196.39 L351.98 1194.4 L352.19 1192.42 L352.4 1190.43 L352.6 1188.44 L352.8 1186.45 L352.99 1184.46 L353.17 1182.47 L353.35 1180.48 L353.52 1178.49 L353.68 1176.5 L353.84 1174.51 L354 1172.52 L354.14 1170.52 L354.29 1168.53 L354.43 1166.54 L354.56 1164.54 L354.69 1162.55 L354.81 1160.55 L354.93 1158.56 L355.05 1156.56 L355.16 1154.56 L355.26 1152.57 L355.37 1150.57 L355.47 1148.57 L355.56 1146.57 L355.65 1144.58 L355.74 1142.58 L355.83 1140.58 L355.91 1138.58 L355.99 1136.58 L356.07 1134.58 L356.14 1132.58 L356.22 1130.58 L356.29 1128.58 L356.35 1126.58 L356.42 1124.58 L356.48 1122.58 L356.55 1120.58 L356.61 1118.58 L356.67 1116.58 L356.72 1114.58 L356.78 1112.58 L356.84 1110.58 L356.89 1108.58 L356.95 1106.58 L357 1104.58 L357.06 1102.58 L357.11 1100.57 L357.16 1098.57 L357.22 1096.57 L357.27 1094.57 L357.33 1092.57 L357.38 1090.57 L357.44 1088.57 L357.49 1086.57 L357.54 1084.57 L357.6 1082.57 L357.66 1080.57 L357.71 1078.57 L357.77 1076.57 L357.82 1074.57 L357.88 1072.57 L357.93 1070.57 L357.99 1068.57 L358.05 1066.57 L358.1 1064.58 L358.16 1062.58 L358.22 1060.58 L358.27 1058.58 L358.33 1056.58 L358.39 1054.58 L358.44 1052.58 L358.5 1050.58 L358.56 1048.58 L358.62 1046.58 L358.67 1044.58 L358.73 1042.59 L358.79 1040.59 L358.85 1038.59 L358.91 1036.59 L358.96 1034.59 L359.02 1032.59 L359.08 1030.59 L359.14 1028.6 L359.2 1026.6 L359.26 1024.6 L359.32 1022.6 L359.38 1020.6 L359.43 1018.6 L359.49 1016.61 L359.55 1014.61 L359.61 1012.61 L359.67 1010.61 L359.73 1008.61 L359.79 1006.61 L359.85 1004.62 L359.91 1002.62 L359.97 1000.62 L360.03 998.62 L360.09 996.62 L360.15 994.62 L360.21 992.63 L360.26 990.63 L360.32 988.63 L360.38 986.63 L360.44 984.63 L360.5 982.63 L360.56 980.64 L360.62 978.64 L360.68 976.64 L360.74 974.64 L360.8 972.64 L360.86 970.64 L360.92 968.65 L360.98 966.65 L361.04 964.65 L361.1 962.65 L361.16 960.65 L361.22 958.65 L361.28 956.66 L361.34 954.66 L361.4 952.66 L361.46 950.66 L361.52 948.66 L361.58 946.66 L361.64 944.66 L361.7 942.66 L361.76 940.67 L361.82 938.67 L361.88 936.67 L361.94 934.67 L361.99 932.67 L362.05 930.67 L362.11 928.67 L362.17 926.67 L362.23 924.67 L362.29 922.68 L362.35 920.68 L362.41 918.68 L362.47 916.68 L362.53 914.68 L362.59 912.68 L362.65 910.68 L362.7 908.68 L362.76 906.68 L362.82 904.68 L362.88 902.68 L362.94 900.68 L363 898.68 L363.06 896.69 L363.12 894.69 L363.17 892.69 L363.23 890.69 L363.29 888.69 L363.35 886.69 L363.41 884.69 L363.47 882.69 L363.53 880.69 L363.58 878.69 L363.64 876.69 L363.7 874.69 L363.76 872.69 L363.82 870.69 L363.88 868.69 L363.93 866.69 L363.99 864.69 L364.05 862.69 L364.11 860.69 L364.17 858.69 L364.22 856.7 L364.28 854.7 L364.34 852.7 L364.4 850.7 L364.46 848.7 L364.51 846.7 L364.57 844.7 L364.63 842.7 L364.69 840.7 L364.75 838.7 L364.8 836.7 L364.86 834.7 L364.92 832.7 L364.98 830.7 L365.03 828.7 L365.09 826.7 L365.15 824.7 L365.2 822.7 L365.26 820.7 L365.32 818.7 L365.38 816.7 L365.43 814.7 L365.49 812.7 L365.55 810.7 L365.6 808.7 L365.66 806.7 L365.72 804.7 L365.78 802.7 L365.83 800.7 L365.89 798.7 L365.95 796.7 L366 794.7 L366.06 792.71 L366.12 790.71 L366.17 788.71 L366.23 786.71 L366.29 784.71 L366.34 782.71 L366.4 780.71 L366.45 778.71 L366.51 776.71 L366.57 774.71 L366.62 772.71 L366.68 770.71 L366.74 768.71 L366.79 766.71 L366.85 764.71 L366.9 762.71 L366.96 760.71 L367.02 758.71 L367.07 756.71 L367.13 754.71 L367.18 752.71 L367.24 750.72 L367.29 748.72 L367.35 746.72 L367.41 744.72 L367.46 742.72 L367.52 740.72 L367.57 738.72 L367.63 736.72 L367.68 734.72 L367.74 732.72 L367.79 730.72 L367.85 728.72 L367.9 726.72 L367.96 724.73 L368.01 722.73 L368.07 720.73 L368.12 718.73 L368.18 716.73 L368.23 714.73 L368.29 712.73 L368.34 710.73 L368.39 708.73 L368.45 706.73 L368.5 704.74 L368.56 702.74 L368.61 700.74 L368.67 698.74 L368.72 696.74 L368.78 694.74 L368.83 692.74 L368.88 690.74 L368.94 688.75 L368.99 686.75 L369.05 684.75 L369.1 682.75 L369.15 680.75 L369.21 678.75 L369.26 676.75 L369.32 674.76 L369.37 672.76 L369.42 670.76 L369.48 668.76 L369.53 666.76 L369.59 664.76 L369.64 662.77 L369.7 660.77 L369.75 658.77 L369.8 656.77 L369.86 654.77 L369.91 652.77 L369.97 650.78 L370.02 648.78 L370.07 646.78 L370.13 644.78 L370.18 642.78 L370.24 640.78 L370.29 638.79 L370.35 636.79 L370.4 634.79 L370.46 632.79 L370.51 630.79 L370.57 628.79 L370.62 626.8 L370.68 624.8 L370.73 622.8 L370.79 620.8 L370.84 618.8 L370.9 616.8 L370.95 614.81 L371.01 612.81 L371.06 610.81 L371.12 608.81 L371.17 606.81 L371.23 604.82 L371.29 602.82 L371.34 600.82 L371.4 598.82 L371.45 596.82 L371.51 594.82 L371.57 592.83 L371.62 590.83 L371.68 588.83 L371.74 586.83 L371.79 584.83 L371.85 582.83 L371.91 580.84 L371.97 578.84 L372.02 576.84 L372.08 574.84 L372.14 572.84 L372.2 570.84 L372.26 568.84 L372.31 566.85 L372.37 564.85 L372.43 562.85 L372.49 560.85 L372.55 558.85 L372.61 556.85 L372.67 554.85 L372.73 552.86 L372.79 550.86 L372.85 548.86 L372.91 546.86 L372.97 544.86 L373.03 542.86 L373.09 540.86 L373.15 538.86 L373.21 536.87 L373.27 534.87 L373.33 532.87 L373.39 530.87 L373.45 528.87 L373.52 526.87 L373.58 524.87 L373.64 522.87 L373.7 520.87 L373.77 518.88 L373.83 516.88 L373.89 514.88 L373.96 512.88 L374.02 510.88 L374.09 508.88 L374.15 506.88 L374.21 504.88 L374.28 502.88 L374.34 500.88 L374.41 498.88 L374.48 496.88 L374.54 494.88 L374.61 492.88 L374.67 490.88 L374.74 488.88 L374.81 486.89 L374.87 484.89 L374.94 482.89 L375.01 480.89 L375.08 478.89 L375.15 476.89 L375.21 474.89 L375.28 472.89 L375.35 470.89 L375.42 468.89 L375.49 466.89 L375.56 464.89 L375.63 462.89 L375.7 460.88 L375.77 458.88 L375.85 456.88 L375.92 454.88 L375.99 452.88 L376.06 450.88 L376.14 448.88 L376.21 446.88 L376.28 444.88 L376.36 442.88 L376.43 440.88 L376.5 438.88 L376.58 436.88 L376.65 434.88 L376.73 432.88 L376.81 430.87 L376.88 428.87 L376.96 426.87 L377.03 424.87 L377.11 422.87 L377.19 420.87 L377.27 418.87 L377.35 416.86 L377.42 414.86 L377.5 412.86 L377.58 410.86 L377.66 408.86 L377.74 406.86 L377.82 404.85 L377.91 402.85 L377.99 400.85 L378.07 398.85 L378.15 396.84 L378.23 394.84 L378.32 392.84 L378.4 390.84 L378.49 388.84 L378.58 386.83 L378.67 384.83 L378.76 382.83 L378.86 380.83 L378.96 378.83 L379.06 376.83 L379.17 374.83 L379.28 372.83 L379.4 370.84 L379.52 368.84 L379.65 366.84 L379.78 364.85 L379.92 362.85 L380.06 360.86 L380.22 358.87 L380.38 356.88 L380.55 354.89 L380.72 352.9 L380.91 350.92 L381.1 348.93 L381.3 346.95 L381.51 344.97 L381.73 342.99 L381.96 341.01 L382.21 339.03 L382.46 337.06 L382.72 335.08 L383 333.11 L383.28 331.14 L383.57 329.17 L383.85 327.2 L384.14 325.23 L384.41 323.25 L384.67 321.27 L384.91 319.28 L385.12 317.28 L385.33 315.27 L385.53 313.26 L385.73 311.26 L385.96 309.26 L386.23 307.27 L386.54 305.29 L386.91 303.33 L387.35 301.39 L387.87 299.48 L388.5 297.59 L389.23 295.74 L390.08 293.92 L391.2 292.26 L392.5 291.3 L394.11 292.59 L395.36 294.1 L396.32 295.79 L397.07 297.62 L397.66 299.54 L398.17 301.51 L398.66 303.48 L399.14 305.45 L399.63 307.4 L400.13 309.35 L400.62 311.29 L401.11 313.22 L401.61 315.16 L402.1 317.09 L402.59 319.02 L403.08 320.95 L403.57 322.89 L404.05 324.82 L404.54 326.76 L405.02 328.69 L405.51 330.63 L405.99 332.57 L406.47 334.51 L406.95 336.45 L407.43 338.38 L407.9 340.33 L408.38 342.27 L408.85 344.21 L409.33 346.15 L409.8 348.09 L410.28 350.03 L410.75 351.98 L411.22 353.92 L411.7 355.86 L412.17 357.8 L412.64 359.75 L413.12 361.69 L413.59 363.63 L414.06 365.58 L414.53 367.52 L415 369.46 L415.47 371.41 L415.95 373.35 L416.42 375.29 L416.89 377.24 L417.36 379.18 L417.83 381.13 L418.3 383.07 L418.78 385.01 L419.25 386.96 L419.72 388.9 L420.19 390.85 L420.66 392.79 L421.14 394.73 L421.61 396.68 L422.08 398.62 L422.55 400.57 L423.03 402.51 L423.5 404.45 L423.97 406.4 L424.45 408.34 L424.92 410.28 L425.4 412.23 L425.87 414.17 L426.35 416.12 L426.82 418.06 L427.3 420 L427.77 421.95 L428.25 423.89 L428.73 425.83 L429.21 427.77 L429.69 429.72 L430.17 431.66 L430.65 433.6 L431.13 435.54 L431.61 437.49 L432.09 439.43 L432.57 441.37 L433.05 443.31 L433.54 445.25 L434.02 447.19 L434.51 449.14 L434.99 451.08 L435.48 453.02 L435.97 454.96 L436.45 456.9 L436.94 458.84 L437.43 460.78 L437.92 462.72 L438.42 464.66 L438.91 466.59 L439.4 468.53 L439.9 470.47 L440.39 472.41 L440.89 474.35 L441.39 476.29 L441.88 478.22 L442.38 480.16 L442.88 482.1 L443.39 484.03 L443.89 485.97 L444.39 487.91 L444.9 489.84 L445.41 491.78 L445.91 493.71 L446.42 495.64 L446.93 497.58 L447.44 499.51 L447.96 501.45 L448.47 503.38 L448.99 505.31 L449.5 507.24 L450.02 509.17 L450.54 511.11 L451.06 513.04 L451.58 514.97 L452.11 516.9 L452.63 518.83 L453.16 520.76 L453.69 522.68 L455.6 529.61 L457.6 536.76 L459.6 543.81 L461.6 550.77 L463.6 557.63 L465.6 564.4 L467.6 571.08 L469.6 577.69 L471.6 584.22 L473.6 590.68 L475.6 597.08 L477.6 603.42 L479.6 609.71 L481.6 615.94 L483.6 622.12 L485.6 628.24 L487.6 634.31 L489.6 640.32 L491.6 646.27 L493.6 652.16 L495.6 657.99 L497.6 663.75 L499.6 669.46 L501.6 675.1 L503.6 680.69 L505.6 686.23 L507.6 691.7 L509.6 697.13 L511.6 702.49 L513.6 707.8 L515.6 713.06 L517.6 718.27 L519.6 723.42 L521.6 728.52 L523.6 733.56 L525.6 738.56 L527.6 743.51 L529.6 748.4 L531.6 753.25 L533.6 758.04 L535.6 762.79 L537.6 767.49 L539.6 772.14 L541.6 776.75 L543.6 781.31 L545.6 785.82 L547.6 790.29 L549.6 794.71 L551.6 799.08 L553.6 803.42 L555.6 807.7 L557.6 811.95 L559.6 816.15 L561.6 820.31 L563.6 824.43 L565.6 828.5 L567.6 832.54 L569.6 836.53 L571.6 840.48 L573.6 844.39 L575.6 848.27 L577.6 852.1 L579.6 855.9 L581.6 859.65 L583.6 863.37 L585.6 867.05 L587.6 870.69 L589.6 874.3 L591.6 877.87 L593.6 881.41 L595.6 884.9 L597.6 888.37 L599.6 891.79 L601.6 895.19 L603.6 898.55 L605.6 901.87 L607.6 905.16 L609.6 908.42 L611.6 911.64 L613.6 914.84 L615.6 918 L617.6 921.12 L619.6 924.22 L621.6 927.29 L623.6 930.32 L625.6 933.32 L627.6 936.3 L629.6 939.24 L631.6 942.15 L633.6 945.04 L635.6 947.89 L637.6 950.72 L639.6 953.51 L641.6 956.28 L643.6 959.02 L645.6 961.74 L647.6 964.42 L649.6 967.08 L651.6 969.71 L653.6 972.32 L655.6 974.9 L657.6 977.45 L659.6 979.98 L661.6 982.48 L663.6 984.96 L665.6 987.41 L667.6 989.84 L669.6 992.24 L671.6 994.62 L673.6 996.97 L675.6 999.3 L677.6 1001.61 L679.6 1003.89 L681.6 1006.15 L683.6 1008.39 L685.6 1010.61 L687.6 1012.8 L689.6 1014.97 L691.6 1017.12 L693.6 1019.25 L695.6 1021.35 L697.6 1023.44 L699.6 1025.5 L701.6 1027.54 L703.6 1029.57 L705.6 1031.57 L707.6 1033.55 L709.6 1035.51 L711.6 1037.45 L713.6 1039.38 L715.6 1041.28 L717.6 1043.16 L719.6 1045.03 L721.6 1046.88 L723.6 1048.7 L725.6 1050.51 L727.6 1052.3 L729.6 1054.08 L731.6 1055.83 L733.6 1057.57 L735.6 1059.29 L737.6 1060.99 L739.6 1062.68 L741.6 1064.35 L743.6 1066 L745.6 1067.64 L747.6 1069.26 L749.6 1070.86 L751.6 1072.45 L753.6 1074.02 L755.6 1075.57 L757.6 1077.11 L759.6 1078.64 L761.6 1080.15 L763.6 1081.64 L765.6 1083.12 L767.6 1084.58 L769.6 1086.03 L771.6 1087.47 L773.6 1088.89 L775.6 1090.3 L777.6 1091.69 L779.6 1093.07 L781.6 1094.43 L783.6 1095.78 L785.6 1097.12 L787.6 1098.44 L789.6 1099.75 L791.6 1101.05 L793.6 1102.34 L795.6 1103.61 L797.6 1104.87 L799.6 1106.11 L801.6 1107.35 L803.6 1108.57 L805.6 1109.78 L807.6 1110.98 L809.6 1112.16 L811.6 1113.34 L813.6 1114.5 L815.6 1115.65 L817.6 1116.79 L819.6 1117.91 L821.6 1119.03 L823.6 1120.14 L825.6 1121.23 L827.6 1122.31 L829.6 1123.39 L831.6 1124.45 L833.6 1125.5 L835.6 1126.54 L837.6 1127.57 L839.6 1128.59 L841.6 1129.6 L843.6 1130.6 L845.6 1131.59 L847.6 1132.57 L849.6 1133.54 L851.6 1134.5 L853.6 1135.45 L855.6 1136.4 L857.6 1137.33 L859.6 1138.25 L861.6 1139.17 L863.6 1140.07 L865.6 1140.97 L867.6 1141.85 L869.6 1142.73 L871.6 1143.6 L873.6 1144.46 L875.6 1145.32 L877.6 1146.16 L879.6 1147 L881.6 1147.82 L883.6 1148.64 L885.6 1149.45 L887.6 1150.26 L889.6 1151.05 L891.6 1151.84 L893.6 1152.62 L895.6 1153.39 L897.6 1154.16 L899.6 1154.91 L901.6 1155.66 L903.6 1156.4 L905.6 1157.14 L907.6 1157.87 L909.6 1158.59 L911.6 1159.3 L913.6 1160.01 L915.6 1160.7 L917.6 1161.4 L919.6 1162.08 L921.6 1162.76 L923.6 1163.43 L925.6 1164.1 L927.6 1164.76 L929.6 1165.41 L931.6 1166.06 L933.6 1166.7 L935.6 1167.33 L937.6 1167.96 L939.6 1168.58 L941.6 1169.19 L943.6 1169.8 L945.6 1170.4 L947.6 1171 L949.6 1171.59 L951.6 1172.18 L953.6 1172.76 L955.6 1173.33 L957.6 1173.9 L959.6 1174.46 L961.6 1175.02 L963.6 1175.57 L965.6 1176.12 L967.6 1176.66 L969.6 1177.2 L971.6 1177.73 L973.6 1178.25 L975.6 1178.78 L977.6 1179.29 L979.6 1179.8 L981.6 1180.31 L983.6 1180.81 L985.6 1181.3 L987.6 1181.79 L989.6 1182.28 L991.6 1182.76 L993.6 1183.24 L995.6 1183.71 L997.6 1184.18 L999.6 1184.64 L1001.6 1185.1 L1003.6 1185.56 L1005.6 1186.01 L1007.6 1186.45 L1009.6 1186.89 L1011.6 1187.33 L1013.6 1187.76 L1015.6 1188.19 L1017.6 1188.62 L1019.6 1189.04 L1021.6 1189.45 L1023.6 1189.86 L1025.6 1190.27 L1027.6 1190.68 L1029.6 1191.08 L1031.6 1191.47 L1033.6 1191.87 L1035.6 1192.26 L1037.6 1192.64 L1039.6 1193.02 L1041.6 1193.4 L1043.6 1193.78 L1045.6 1194.15 L1047.6 1194.52 L1049.6 1194.88 L1051.6 1195.24 L1053.6 1195.6 L1055.6 1195.95 L1057.6 1196.3 L1059.6 1196.65 L1061.6 1196.99 L1063.6 1197.33 L1065.6 1197.67 L1067.6 1198 L1069.6 1198.33 L1071.6 1198.66 L1073.6 1198.99 L1075.6 1199.31 L1077.6 1199.63 L1079.6 1199.94 L1081.6 1200.25 L1083.6 1200.56 L1085.6 1200.87 L1087.6 1201.17 L1089.6 1201.47 L1091.6 1201.77 L1093.6 1202.07 L1095.6 1202.36 L1097.6 1202.65 L1099.6 1202.94 L1101.6 1203.22 L1103.6 1203.5 L1105.6 1203.78 L1107.6 1204.06 L1109.6 1204.33 L1111.6 1204.6 L1113.6 1204.87 L1115.6 1205.14 L1117.6 1205.4 L1119.6 1205.66 L1121.6 1205.92 L1123.6 1206.18 L1125.6 1206.43 L1127.6 1206.68 L1129.6 1206.93 L1131.6 1207.18 L1133.6 1207.43 L1135.6 1207.67 L1137.6 1207.91 L1139.6 1208.15 L1141.6 1208.38 L1143.6 1208.62 L1145.6 1208.85 L1147.6 1209.08 L1149.6 1209.31 L1151.6 1209.53 L1153.6 1209.75 L1155.6 1209.98 L1157.6 1210.19 L1159.6 1210.41 L1161.6 1210.63 L1163.6 1210.84 L1165.6 1211.05 L1167.6 1211.26 L1169.6 1211.47 L1171.6 1211.67 L1173.6 1211.88 L1175.6 1212.08 L1177.6 1212.28 L1179.6 1212.48 L1181.6 1212.67 L1183.6 1212.87 L1185.6 1213.06 L1187.6 1213.25 L1189.6 1213.44 L1191.6 1213.63 L1193.6 1213.82 L1195.6 1214 L1197.6 1214.18 L1199.6 1214.37 L1201.6 1214.55 L1203.6 1214.72 L1205.6 1214.9 L1207.6 1215.07 L1209.6 1215.25 L1211.6 1215.42 L1213.6 1215.59 L1215.6 1215.76 L1217.6 1215.93 L1219.6 1216.09 L1221.6 1216.26 L1223.6 1216.42 L1225.6 1216.58 L1227.6 1216.74 L1229.6 1216.9 L1231.6 1217.06 L1233.6 1217.21 L1235.6 1217.37 L1237.6 1217.52 L1239.6 1217.67 L1241.6 1217.82 L1243.6 1217.97 L1245.6 1218.12 L1247.6 1218.27 L1249.6 1218.41 L1251.6 1218.56 L1253.6 1218.7 L1255.6 1218.84 L1257.6 1218.98 L1259.6 1219.12 L1261.6 1219.26 L1263.6 1219.39 L1265.6 1219.53 L1267.6 1219.66 L1269.6 1219.8 L1271.6 1219.93 L1273.6 1220.06 L1275.6 1220.19 L1277.6 1220.32 L1279.6 1220.45 L1281.6 1220.57 L1283.6 1220.7 L1285.6 1220.83 L1287.6 1220.95 L1289.6 1221.07 L1291.6 1221.19 L1293.6 1221.31 L1295.6 1221.43 L1297.6 1221.55 L1299.6 1221.67 L1301.6 1221.79 L1303.6 1221.9 L1305.6 1222.02 L1307.6 1222.13 L1309.6 1222.24 L1311.6 1222.35 L1313.6 1222.46 L1315.6 1222.57 L1317.6 1222.68 L1319.6 1222.79 L1321.6 1222.9 L1323.6 1223.01 L1325.6 1223.11 L1327.6 1223.22 L1329.6 1223.32 L1331.6 1223.42 L1333.6 1223.53 L1335.6 1223.63 L1337.6 1223.73 L1339.6 1223.83 L1341.6 1223.93 L1343.6 1224.02 L1345.6 1224.12 L1347.6 1224.22 L1349.6 1224.31 L1351.6 1224.41 L1353.6 1224.5 L1355.6 1224.6 L1357.6 1224.69 L1359.6 1224.78 L1361.6 1224.87 L1363.6 1224.97 L1365.6 1225.06 L1367.6 1225.14 L1369.6 1225.23 L1371.6 1225.32 L1373.6 1225.41 L1375.6 1225.5 L1377.6 1225.58 L1379.6 1225.67 L1381.6 1225.75 L1383.6 1225.84 L1385.6 1225.92 L1387.6 1226 L1389.6 1226.08 L1391.6 1226.17 L1393.6 1226.25 L1395.6 1226.33 L1397.6 1226.41 L1399.6 1226.49 L1401.6 1226.56 L1403.6 1226.64 L1405.6 1226.72 L1407.6 1226.8 L1409.6 1226.87 L1411.6 1226.95 L1413.6 1227.02 L1415.6 1227.1 L1417.6 1227.17 L1419.6 1227.25 L1421.6 1227.32 L1423.6 1227.39 L1425.6 1227.46 L1427.6 1227.53 L1429.6 1227.6 L1431.6 1227.68 L1433.6 1227.74 L1435.6 1227.81 L1437.6 1227.88 L1439.6 1227.95 L1441.6 1228.02 L1443.6 1228.09 L1445.6 1228.15 L1447.6 1228.22 L1449.6 1228.29 L1451.6 1228.35 L1453.6 1228.42 L1455.6 1228.48 L1457.6 1228.55 L1459.6 1228.61 L1461.6 1228.67 L1463.6 1228.74 L1465.6 1228.8 L1467.6 1228.86 L1469.6 1228.92 L1471.6 1228.98 L1473.6 1229.04 L1475.6 1229.1 L1477.6 1229.16 L1479.6 1229.22 L1481.6 1229.28 L1483.6 1229.34 L1485.6 1229.4 L1487.6 1229.46 L1489.6 1229.52 L1491.6 1229.57 L1493.6 1229.63 L1495.6 1229.69 L1497.6 1229.74 L1499.6 1229.8 L1501.6 1229.85 L1503.6 1229.91 L1505.6 1229.96 L1507.6 1230.02 L1509.6 1230.07 L1511.6 1230.13 L1513.6 1230.18 L1515.6 1230.23 L1517.6 1230.29 L1519.6 1230.34 L1521.6 1230.39 L1523.6 1230.44 L1525.6 1230.49 L1527.6 1230.54 L1529.6 1230.59 L1531.6 1230.65 L1533.6 1230.7 L1535.6 1230.75 L1537.6 1230.8 L1539.6 1230.84 L1541.6 1230.89 L1543.6 1230.94 L1545.6 1230.99 L1547.6 1231.04 L1549.6 1231.09 L1551.6 1231.13 L1553.6 1231.18 L1555.6 1231.23 L1557.6 1231.27 L1559.6 1231.32 L1561.6 1231.37 L1563.6 1231.41 L1565.6 1231.46 L1567.6 1231.5 L1569.6 1231.55 L1571.6 1231.59 L1572 1231.6" stroke="#0000ff" stroke-width="5.0"/>
<circle cx="263" cy="1265.9" r="20.1" stroke="#0000ff" stroke-width="4.9" fill="none"/>
<circle cx="472.44" cy="587.4" r="20.1" stroke="#0000ff" stroke-width="4.9" fill="none"/>
<circle cx="681.88" cy="1005.7" r="20.1" stroke="#0000ff" stroke-width="4.9" fill="none"/>
<circle cx="891.32" cy="1152.8" r="20.1" stroke="#0000ff" stroke-width="4.9" fill="none"/>
<circle cx="1100.76" cy="1203" r="20.1" stroke="#0000ff" stroke-width="4.9" fill="none"/>
<circle cx="1310.2" cy="1222" r="20.1" stroke="#0000ff" stroke-width="4.9" fill="none"/>
<circle cx="1519.64" cy="1230.5" r="20.1" stroke="#0000ff" stroke-width="4.9" fill="none"/>
<path d="M263 1265.5 L313 1265.5 L314.5 1265.38 L315.99 1265.21 L317.47 1265 L318.95 1264.75 L320.42 1264.44 L321.88 1264.07 L323.32 1263.66 L324.78 1263.19 L326.22 1262.66 L327.6 1262.05 L328.88 1261.37 L330.08 1260.57 L331.26 1259.61 L332.39 1258.53 L333.44 1257.36 L334.37 1256.14 L335.14 1254.91 L335.79 1253.65 L336.37 1252.32 L336.9 1250.92 L337.39 1249.48 L337.84 1248.01 L338.26 1246.53 L338.66 1245.04 L339.05 1243.57 L339.43 1242.12 L339.8 1240.67 L340.15 1239.22 L340.48 1237.76 L340.8 1236.29 L341.1 1234.81 L341.37 1233.34 L341.6 1232 L341.77 1230.01 L341.94 1228.01 L342.11 1226.02 L342.28 1224.03 L342.44 1222.03 L342.61 1220.04 L342.77 1218.05 L342.93 1216.05 L343.1 1214.06 L343.25 1212.07 L343.41 1210.07 L343.57 1208.08 L343.72 1206.08 L343.88 1204.09 L344.03 1202.1 L344.18 1200.1 L344.33 1198.11 L344.48 1196.11 L344.63 1194.12 L344.78 1192.13 L344.92 1190.13 L345.07 1188.14 L345.21 1186.14 L345.35 1184.15 L345.49 1182.15 L345.63 1180.16 L345.77 1178.16 L345.9 1176.17 L346.04 1174.17 L346.17 1172.18 L346.3 1170.18 L346.44 1168.19 L346.57 1166.19 L346.7 1164.2 L346.82 1162.2 L346.95 1160.21 L347.08 1158.21 L347.2 1156.21 L347.33 1154.22 L347.45 1152.22 L347.57 1150.23 L347.69 1148.23 L347.81 1146.24 L347.93 1144.24 L348.04 1142.24 L348.16 1140.25 L348.27 1138.25 L348.39 1136.25 L348.5 1134.26 L348.61 1132.26 L348.72 1130.27 L348.83 1128.27 L348.94 1126.27 L349.05 1124.28 L349.16 1122.28 L349.26 1120.28 L349.37 1118.29 L349.47 1116.29 L349.57 1114.29 L349.67 1112.3 L349.77 1110.3 L349.87 1108.3 L349.97 1106.31 L350.07 1104.31 L350.17 1102.31 L350.26 1100.31 L350.36 1098.32 L350.45 1096.32 L350.55 1094.32 L350.64 1092.32 L350.73 1090.33 L350.82 1088.33 L350.91 1086.33 L351 1084.33 L351.09 1082.34 L351.17 1080.34 L351.26 1078.34 L351.34 1076.34 L351.43 1074.35 L351.51 1072.35 L351.59 1070.35 L351.68 1068.35 L351.76 1066.36 L351.84 1064.36 L351.92 1062.36 L352 1060.36 L352.07 1058.36 L352.15 1056.36 L352.23 1054.37 L352.3 1052.37 L352.38 1050.37 L352.45 1048.37 L352.53 1046.37 L352.6 1044.38 L352.67 1042.38 L352.74 1040.38 L352.81 1038.38 L352.88 1036.38 L352.95 1034.38 L353.02 1032.38 L353.09 1030.39 L353.16 1028.39 L353.22 1026.39 L353.29 1024.39 L353.35 1022.39 L353.42 1020.39 L353.48 1018.39 L353.55 1016.39 L353.61 1014.4 L353.67 1012.4 L353.73 1010.4 L353.79 1008.4 L353.85 1006.4 L353.91 1004.4 L353.97 1002.4 L354.03 1000.4 L354.09 998.4 L354.15 996.4 L354.2 994.4 L354.26 992.41 L354.32 990.41 L354.37 988.41 L354.43 986.41 L354.48 984.41 L354.53 982.41 L354.59 980.41 L354.64 978.41 L354.69 976.41 L354.74 974.41 L354.8 972.41 L354.85 970.41 L354.9 968.41 L354.95 966.41 L355 964.41 L355.05 962.41 L355.1 960.42 L355.14 958.42 L355.19 956.42 L355.24 954.42 L355.29 952.42 L355.33 950.42 L355.38 948.42 L355.43 946.42 L355.47 944.42 L355.52 942.42 L355.56 940.42 L355.61 938.42 L355.65 936.42 L355.69 934.42 L355.74 932.42 L355.78 930.42 L355.82 928.42 L355.87 926.42 L355.91 924.42 L355.95 922.42 L355.99 920.42 L356.04 918.42 L356.08 916.42 L356.12 914.42 L356.16 912.42 L356.2 910.42 L356.24 908.42 L356.28 906.42 L356.32 904.42 L356.36 902.42 L356.4 900.42 L356.44 898.42 L356.48 896.42 L356.52 894.42 L356.56 892.42 L356.59 890.42 L356.63 888.42 L356.67 886.42 L356.71 884.42 L356.75 882.42 L356.79 880.42 L356.82 878.42 L356.86 876.42 L356.9 874.42 L356.94 872.42 L356.97 870.42 L357.01 868.42 L357.05 866.42 L357.08 864.42 L357.12 862.42 L357.16 860.42 L357.2 858.42 L357.23 856.42 L357.27 854.42 L357.31 852.42 L357.34 850.42 L357.38 848.42 L357.42 846.42 L357.45 844.42 L357.49 842.42 L357.53 840.42 L357.56 838.42 L357.6 836.42 L357.64 834.42 L357.68 832.42 L357.71 830.42 L357.75 828.42 L357.79 826.42 L357.82 824.42 L357.86 822.42 L357.9 820.42 L357.94 818.42 L357.97 816.42 L358.01 814.42 L358.05 812.42 L358.09 810.42 L358.13 808.42 L358.16 806.42 L358.2 804.42 L358.24 802.42 L358.28 800.42 L358.32 798.42 L358.36 796.42 L358.4 794.42 L358.44 792.42 L358.48 790.42 L358.52 788.42 L358.56 786.43 L358.6 784.43 L358.64 782.43 L358.68 780.43 L358.72 778.43 L358.76 776.43 L358.8 774.43 L358.84 772.43 L358.89 770.43 L358.93 768.43 L358.97 766.43 L359.01 764.43 L359.06 762.43 L359.1 760.43 L359.14 758.43 L359.19 756.43 L359.23 754.43 L359.28 752.43 L359.32 750.43 L359.37 748.44 L359.41 746.44 L359.46 744.44 L359.5 742.44 L359.55 740.44 L359.6 738.44 L359.64 736.44 L359.69 734.44 L359.74 732.44 L359.78 730.44 L359.83 728.44 L359.88 726.44 L359.93 724.45 L359.98 722.45 L360.02 720.45 L360.07 718.45 L360.12 716.45 L360.17 714.45 L360.22 712.45 L360.27 710.45 L360.32 708.45 L360.36 706.45 L360.41 704.46 L360.46 702.46 L360.51 700.46 L360.56 698.46 L360.61 696.46 L360.66 694.46 L360.71 692.46 L360.76 690.46 L360.81 688.46 L360.86 686.46 L360.91 684.47 L360.96 682.47 L361.01 680.47 L361.06 678.47 L361.11 676.47 L361.16 674.47 L361.21 672.47 L361.26 670.47 L361.31 668.47 L361.36 666.47 L361.41 664.48 L361.46 662.48 L361.51 660.48 L361.56 658.48 L361.61 656.48 L361.66 654.48 L361.71 652.48 L361.76 650.48 L361.81 648.48 L361.86 646.48 L361.91 644.49 L361.96 642.49 L362.01 640.49 L362.06 638.49 L362.11 636.49 L362.16 634.49 L362.21 632.49 L362.26 630.49 L362.3 628.49 L362.35 626.49 L362.4 624.49 L362.45 622.49 L362.5 620.5 L362.55 618.5 L362.59 616.5 L362.64 614.5 L362.69 612.5 L362.74 610.5 L362.78 608.5 L362.83 606.5 L362.88 604.5 L362.92 602.5 L362.97 600.5 L363.02 598.5 L363.06 596.5 L363.11 594.5 L363.15 592.5 L363.2 590.5 L363.24 588.5 L363.29 586.5 L363.33 584.51 L363.38 582.51 L363.42 580.51 L363.47 578.51 L363.51 576.51 L363.55 574.51 L363.6 572.51 L363.64 570.51 L363.68 568.51 L363.73 566.51 L363.77 564.51 L363.81 562.51 L363.86 560.51 L363.9 558.51 L363.94 556.51 L363.98 554.51 L364.03 552.51 L364.07 550.51 L364.11 548.51 L364.15 546.51 L364.2 544.51 L364.24 542.51 L364.28 540.51 L364.32 538.51 L364.36 536.51 L364.41 534.51 L364.45 532.51 L364.49 530.51 L364.53 528.51 L364.57 526.51 L364.61 524.51 L364.66 522.51 L364.7 520.51 L364.74 518.51 L364.78 516.51 L364.82 514.51 L364.86 512.51 L364.91 510.51 L364.95 508.51 L364.99 506.51 L365.03 504.52 L365.07 502.52 L365.12 500.52 L365.16 498.52 L365.2 496.52 L365.24 494.52 L365.28 492.52 L365.33 490.52 L365.37 488.52 L365.41 486.52 L365.45 484.52 L365.5 482.52 L365.54 480.52 L365.58 478.52 L365.63 476.52 L365.67 474.52 L365.71 472.52 L365.76 470.52 L365.8 468.52 L365.84 466.52 L365.89 464.52 L365.93 462.53 L365.97 460.53 L366.02 458.53 L366.06 456.53 L366.11 454.53 L366.15 452.53 L366.2 450.53 L366.24 448.53 L366.29 446.53 L366.34 444.53 L366.38 442.53 L366.43 440.54 L366.47 438.54 L366.52 436.54 L366.57 434.54 L366.62 432.54 L366.66 430.54 L366.71 428.54 L366.76 426.54 L366.81 424.55 L366.86 422.55 L366.9 420.55 L366.95 418.55 L367 416.55 L367.05 414.55 L367.1 412.56 L367.15 410.56 L367.2 408.56 L367.25 406.56 L367.3 404.56 L367.35 402.56 L367.4 400.56 L367.45 398.57 L367.5 396.57 L367.55 394.57 L367.61 392.57 L367.66 390.57 L367.71 388.58 L367.76 386.58 L367.81 384.58 L367.86 382.58 L367.92 380.58 L367.97 378.58 L368.02 376.59 L368.08 374.59 L368.13 372.59 L368.18 370.59 L368.23 368.59 L368.29 366.59 L368.34 364.6 L368.39 362.6 L368.45 360.6 L368.5 358.6 L368.56 356.6 L368.61 354.6 L368.66 352.61 L368.72 350.61 L368.77 348.61 L368.83 346.61 L368.88 344.61 L368.94 342.61 L368.99 340.61 L369.05 338.62 L369.1 336.62 L369.16 334.62 L369.21 332.62 L369.27 330.62 L369.32 328.62 L369.38 326.62 L369.43 324.62 L369.49 322.62 L369.54 320.63 L369.6 318.63 L369.65 316.63 L369.71 314.63 L369.77 312.63 L369.82 310.63 L369.88 308.63 L369.93 306.63 L369.99 304.63 L370.04 302.63 L370.1 300.63 L370.16 298.63 L370.21 296.63 L370.27 294.63 L370.32 292.63 L370.38 290.63 L370.44 288.63 L370.49 286.63 L370.55 284.63 L370.6 282.63 L370.66 280.63 L370.71 278.63 L370.77 276.63 L370.83 274.63 L370.88 272.63 L370.94 270.63 L370.99 268.63 L371.05 266.63 L371.1 264.63 L371.16 262.63 L371.22 260.62 L371.27 258.62 L371.33 256.62 L371.38 254.62 L371.44 252.62 L371.49 250.62 L371.55 248.62 L371.6 246.61 L371.66 244.61 L371.71 242.61 L371.77 240.61 L371.82 238.61 L371.88 236.6 L371.93 234.6 L371.99 232.6 L372.04 230.6 L372.1 228.59 L372.15 226.59 L372.21 224.59 L372.26 222.58 L372.32 220.58 L372.39 218.58 L372.46 216.58 L372.54 214.58 L372.62 212.58 L372.71 210.58 L372.82 208.58 L372.93 206.59 L373.06 204.59 L373.2 202.6 L373.36 200.61 L373.53 198.62 L373.72 196.63 L373.92 194.65 L374.15 192.67 L374.4 190.69 L374.66 188.71 L374.95 186.74 L375.27 184.77 L375.61 182.8 L375.98 180.84 L376.37 178.88 L376.79 176.92 L377.24 174.97 L377.73 173.02 L378.24 171.08 L378.4 170.5 L378.93 172.44 L379.43 174.39 L379.89 176.34 L380.32 178.29 L380.72 180.25 L381.09 182.22 L381.44 184.18 L381.75 186.16 L382.05 188.13 L382.32 190.11 L382.56 192.09 L382.79 194.07 L383 196.06 L383.18 198.04 L383.36 200.03 L383.51 202.03 L383.66 204.02 L383.79 206.02 L383.91 208.01 L384.02 210.01 L384.12 212.01 L384.22 214.01 L384.31 216.01 L384.4 218.02 L384.48 220.02 L384.57 222.02 L384.65 224.02 L384.74 226.02 L384.83 228.02 L384.92 230.02 L385.02 232.02 L385.13 234.02 L385.24 236.02 L385.35 238.02 L385.46 240.02 L385.58 242.01 L385.71 244.01 L385.83 246.01 L385.96 248 L386.09 250 L386.23 251.99 L386.36 253.99 L386.5 255.98 L386.64 257.97 L386.79 259.97 L386.93 261.96 L387.08 263.96 L387.22 265.95 L387.37 267.94 L387.52 269.93 L387.67 271.93 L387.81 273.92 L387.96 275.91 L388.11 277.91 L388.26 279.9 L388.41 281.89 L388.55 283.89 L388.7 285.88 L388.84 287.88 L388.99 289.87 L389.13 291.86 L389.28 293.86 L389.42 295.85 L389.56 297.85 L389.7 299.84 L389.84 301.84 L389.99 303.83 L390.13 305.83 L390.27 307.82 L390.41 309.82 L390.55 311.81 L390.69 313.81 L390.83 315.8 L390.96 317.8 L391.1 319.79 L391.24 321.79 L391.38 323.79 L391.52 325.78 L391.65 327.78 L391.79 329.77 L391.93 331.77 L392.07 333.77 L392.2 335.76 L392.34 337.76 L392.48 339.75 L392.62 341.75 L392.75 343.75 L392.89 345.74 L393.03 347.74 L393.16 349.74 L393.3 351.73 L393.44 353.73 L393.57 355.72 L393.71 357.72 L393.85 359.72 L393.99 361.71 L394.13 363.71 L394.26 365.71 L394.4 367.7 L394.54 369.7 L394.68 371.7 L394.82 373.69 L394.96 375.69 L395.1 377.69 L395.24 379.68 L395.38 381.68 L395.52 383.67 L395.66 385.67 L395.8 387.67 L395.95 389.66 L396.09 391.66 L396.23 393.65 L396.38 395.65 L396.52 397.65 L396.67 399.64 L396.81 401.64 L396.96 403.63 L397.11 405.63 L397.25 407.62 L397.4 409.62 L397.55 411.61 L397.7 413.61 L397.85 415.6 L398 417.6 L398.15 419.59 L398.31 421.59 L398.46 423.58 L398.61 425.58 L398.77 427.57 L398.93 429.57 L399.08 431.56 L399.24 433.55 L399.4 435.55 L399.56 437.54 L399.72 439.54 L399.88 441.53 L400.04 443.52 L400.21 445.52 L400.37 447.51 L400.54 449.5 L400.71 451.49 L400.87 453.49 L401.04 455.48 L401.21 457.47 L401.39 459.46 L401.56 461.46 L401.73 463.45 L401.91 465.44 L402.08 467.43 L402.26 469.42 L402.44 471.41 L402.62 473.4 L402.8 475.39 L402.98 477.39 L403.17 479.38 L403.35 481.37 L403.54 483.36 L403.72 485.35 L403.91 487.34 L404.1 489.33 L404.3 491.31 L404.49 493.3 L404.68 495.29 L404.88 497.28 L405.08 499.27 L405.27 501.26 L405.47 503.25 L405.68 505.24 L405.88 507.22 L406.08 509.21 L406.29 511.2 L406.5 513.19 L406.71 515.17 L406.92 517.16 L407.13 519.15 L407.34 521.14 L407.56 523.12 L407.77 525.11 L407.99 527.09 L408.21 529.08 L408.43 531.07 L408.66 533.05 L408.88 535.04 L409.11 537.02 L409.34 539.01 L409.57 540.99 L409.8 542.98 L410.03 544.96 L410.27 546.95 L410.51 548.93 L410.74 550.91 L410.99 552.9 L411.23 554.88 L411.47 556.86 L411.72 558.85 L411.97 560.83 L412.22 562.81 L412.47 564.79 L412.72 566.78 L412.98 568.76 L413.24 570.74 L413.5 572.72 L413.76 574.7 L414.02 576.68 L414.29 578.66 L414.55 580.64 L414.82 582.63 L415.1 584.61 L415.37 586.59 L415.64 588.56 L415.92 590.54 L416.2 592.52 L416.48 594.5 L416.77 596.48 L417.05 598.46 L417.34 600.44 L417.63 602.42 L417.93 604.39 L418.22 606.37 L418.52 608.35 L418.82 610.33 L419.12 612.3 L419.42 614.28 L419.73 616.26 L420.04 618.23 L420.35 620.21 L420.66 622.18 L420.98 624.16 L421.29 626.13 L421.61 628.11 L421.94 630.08 L422.26 632.06 L422.59 634.03 L422.92 636.01 L423.25 637.98 L423.58 639.95 L423.92 641.93 L424.26 643.9 L424.6 645.87 L424.95 647.84 L425.29 649.82 L425.64 651.79 L425.99 653.76 L426.35 655.73 L426.7 657.7 L427.06 659.67 L427.43 661.64 L427.79 663.61 L428.16 665.58 L428.53 667.55 L428.9 669.52 L429.28 671.49 L429.66 673.46 L430.04 675.43 L430.42 677.39 L430.81 679.36 L431.21 681.33 L431.6 683.29 L432 685.26 L432.4 687.22 L432.81 689.18 L433.22 691.14 L433.64 693.11 L434.06 695.07 L434.48 697.02 L434.91 698.98 L435.34 700.94 L435.77 702.89 L436.22 704.85 L436.66 706.8 L437.11 708.75 L437.57 710.71 L438.03 712.65 L438.49 714.6 L438.96 716.55 L439.44 718.49 L439.92 720.44 L440.41 722.38 L440.9 724.32 L441.39 726.26 L441.9 728.19 L442.41 730.13 L442.92 732.06 L443.44 733.99 L443.97 735.92 L444.5 737.85 L445.04 739.77 L445.59 741.7 L446.14 743.62 L446.7 745.54 L447.26 747.46 L447.84 749.37 L448.41 751.28 L449 753.19 L449.59 755.1 L450.19 757.01 L450.8 758.91 L451.41 760.81 L452.04 762.71 L452.67 764.6 L453.3 766.5 L453.95 768.39 L454.6 770.27 L455.26 772.16 L455.93 774.04 L456.6 775.92 L457.29 777.8 L457.98 779.67 L458.68 781.54 L459.39 783.41 L460.11 785.27 L460.84 787.13 L461.57 788.99 L462.31 790.84 L463.07 792.69 L463.83 794.54 L464.6 796.38 L465.37 798.22 L466.16 800.06 L466.96 801.89 L467.76 803.72 L468.57 805.54 L469.4 807.36 L470.23 809.18 L471.07 810.99 L471.92 812.8 L472.78 814.6 L474.4 817.95 L476.4 821.96 L478.4 825.84 L480.4 829.62 L482.4 833.3 L484.4 836.89 L486.4 840.39 L488.4 843.82 L490.4 847.18 L492.4 850.48 L494.4 853.73 L496.4 856.92 L498.4 860.06 L500.4 863.14 L502.4 866.16 L504.4 869.12 L506.4 872.02 L508.4 874.85 L510.4 877.61 L512.4 880.32 L514.4 882.96 L516.4 885.55 L518.4 888.09 L520.4 890.58 L522.4 893.02 L524.4 895.41 L526.4 897.76 L528.4 900.06 L530.4 902.32 L532.4 904.54 L534.4 906.71 L536.4 908.84 L538.4 910.94 L540.4 913 L542.4 915.01 L544.4 917 L546.4 918.95 L548.4 920.86 L550.4 922.74 L552.4 924.59 L554.4 926.4 L556.4 928.19 L558.4 929.94 L560.4 931.67 L562.4 933.36 L564.4 935.03 L566.4 936.67 L568.4 938.29 L570.4 939.88 L572.4 941.44 L574.4 942.98 L576.4 944.5 L578.4 945.99 L580.4 947.46 L582.4 948.9 L584.4 950.33 L586.4 951.73 L588.4 953.12 L590.4 954.48 L592.4 955.83 L594.4 957.15 L596.4 958.46 L598.4 959.74 L600.4 961.01 L602.4 962.26 L604.4 963.5 L606.4 964.72 L608.4 965.92 L610.4 967.1 L612.4 968.27 L614.4 969.43 L616.4 970.57 L618.4 971.69 L620.4 972.81 L622.4 973.9 L624.4 974.99 L626.4 976.06 L628.4 977.11 L630.4 978.16 L632.4 979.19 L634.4 980.21 L636.4 981.22 L638.4 982.21 L640.4 983.2 L642.4 984.17 L644.4 985.13 L646.4 986.08 L648.4 987.02 L650.4 987.95 L652.4 988.87 L654.4 989.78 L656.4 990.68 L658.4 991.57 L660.4 992.45 L662.4 993.32 L664.4 994.18 L666.4 995.04 L668.4 995.88 L670.4 996.72 L672.4 997.54 L674.4 998.36 L676.4 999.18 L678.4 999.98 L680.4 1000.77 L682.4 1001.56 L684.4 1002.34 L686.4 1003.11 L688.4 1003.88 L690.4 1004.64 L692.4 1005.39 L694.4 1006.13 L696.4 1006.87 L698.4 1007.6 L700.4 1008.32 L702.4 1009.04 L704.4 1009.75 L706.4 1010.46 L708.4 1011.15 L710.4 1011.85 L712.4 1012.53 L714.4 1013.21 L716.4 1013.89 L718.4 1014.56 L720.4 1015.22 L722.4 1015.88 L724.4 1016.53 L726.4 1017.18 L728.4 1017.82 L730.4 1018.45 L732.4 1019.08 L734.4 1019.71 L736.4 1020.33 L738.4 1020.95 L740.4 1021.56 L742.4 1022.16 L744.4 1022.77 L746.4 1023.36 L748.4 1023.95 L750.4 1024.54 L752.4 1025.13 L754.4 1025.7 L756.4 1026.28 L758.4 1026.85 L760.4 1027.41 L762.4 1027.98 L764.4 1028.53 L766.4 1029.09 L768.4 1029.64 L770.4 1030.18 L772.4 1030.72 L774.4 1031.26 L776.4 1031.79 L778.4 1032.32 L780.4 1032.85 L782.4 1033.37 L784.4 1033.89 L786.4 1034.41 L788.4 1034.92 L790.4 1035.43 L792.4 1035.93 L794.4 1036.43 L796.4 1036.93 L798.4 1037.42 L800.4 1037.91 L802.4 1038.4 L804.4 1038.89 L806.4 1039.37 L808.4 1039.84 L810.4 1040.32 L812.4 1040.79 L814.4 1041.26 L816.4 1041.73 L818.4 1042.19 L820.4 1042.65 L822.4 1043.1 L824.4 1043.56 L826.4 1044.01 L828.4 1044.46 L830.4 1044.9 L832.4 1045.34 L834.4 1045.78 L836.4 1046.22 L838.4 1046.65 L840.4 1047.09 L842.4 1047.51 L844.4 1047.94 L846.4 1048.36 L848.4 1048.78 L850.4 1049.2 L852.4 1049.62 L854.4 1050.03 L856.4 1050.44 L858.4 1050.85 L860.4 1051.26 L862.4 1051.66 L864.4 1052.06 L866.4 1052.46 L868.4 1052.86 L870.4 1053.25 L872.4 1053.64 L874.4 1054.03 L876.4 1054.42 L878.4 1054.8 L880.4 1055.19 L882.4 1055.57 L884.4 1055.95 L886.4 1056.32 L888.4 1056.7 L890.4 1057.07 L892.4 1057.44 L894.4 1057.81 L896.4 1058.17 L898.4 1058.54 L900.4 1058.9 L902.4 1059.26 L904.4 1059.61 L906.4 1059.97 L908.4 1060.32 L910.4 1060.68 L912.4 1061.03 L914.4 1061.37 L916.4 1061.72 L918.4 1062.06 L920.4 1062.41 L922.4 1062.75 L924.4 1063.09 L926.4 1063.42 L928.4 1063.76 L930.4 1064.09 L932.4 1064.42 L934.4 1064.75 L936.4 1065.08 L938.4 1065.41 L940.4 1065.73 L942.4 1066.06 L944.4 1066.38 L946.4 1066.7 L948.4 1067.02 L950.4 1067.33 L952.4 1067.65 L954.4 1067.96 L956.4 1068.27 L958.4 1068.58 L960.4 1068.89 L962.4 1069.2 L964.4 1069.5 L966.4 1069.81 L968.4 1070.11 L970.4 1070.41 L972.4 1070.71 L974.4 1071.01 L976.4 1071.31 L978.4 1071.6 L980.4 1071.89 L982.4 1072.19 L984.4 1072.48 L986.4 1072.77 L988.4 1073.05 L990.4 1073.34 L992.4 1073.63 L994.4 1073.91 L996.4 1074.19 L998.4 1074.47 L1000.4 1074.75 L1002.4 1075.03 L1004.4 1075.31 L1006.4 1075.59 L1008.4 1075.86 L1010.4 1076.13 L1012.4 1076.41 L1014.4 1076.68 L1016.4 1076.95 L1018.4 1077.21 L1020.4 1077.48 L1022.4 1077.75 L1024.4 1078.01 L1026.4 1078.28 L1028.4 1078.54 L1030.4 1078.8 L1032.4 1079.06 L1034.4 1079.32 L1036.4 1079.58 L1038.4 1079.83 L1040.4 1080.09 L1042.4 1080.34 L1044.4 1080.59 L1046.4 1080.85 L1048.4 1081.1 L1050.4 1081.35 L1052.4 1081.6 L1054.4 1081.84 L1056.4 1082.09 L1058.4 1082.33 L1060.4 1082.58 L1062.4 1082.82 L1064.4 1083.06 L1066.4 1083.31 L1068.4 1083.55 L1070.4 1083.79 L1072.4 1084.02 L1074.4 1084.26 L1076.4 1084.5 L1078.4 1084.73 L1080.4 1084.97 L1082.4 1085.2 L1084.4 1085.43 L1086.4 1085.66 L1088.4 1085.89 L1090.4 1086.12 L1092.4 1086.35 L1094.4 1086.58 L1096.4 1086.8 L1098.4 1087.03 L1100.4 1087.26 L1102.4 1087.48 L1104.4 1087.7 L1106.4 1087.92 L1108.4 1088.15 L1110.4 1088.37 L1112.4 1088.58 L1114.4 1088.8 L1116.4 1089.02 L1118.4 1089.24 L1120.4 1089.45 L1122.4 1089.67 L1124.4 1089.88 L1126.4 1090.1 L1128.4 1090.31 L1130.4 1090.52 L1132.4 1090.73 L1134.4 1090.94 L1136.4 1091.15 L1138.4 1091.36 L1140.4 1091.57 L1142.4 1091.77 L1144.4 1091.98 L1146.4 1092.19 L1148.4 1092.39 L1150.4 1092.59 L1152.4 1092.8 L1154.4 1093 L1156.4 1093.2 L1158.4 1093.4 L1160.4 1093.6 L1162.4 1093.8 L1164.4 1094 L1166.4 1094.2 L1168.4 1094.4 L1170.4 1094.59 L1172.4 1094.79 L1174.4 1094.98 L1176.4 1095.18 L1178.4 1095.37 L1180.4 1095.56 L1182.4 1095.76 L1184.4 1095.95 L1186.4 1096.14 L1188.4 1096.33 L1190.4 1096.52 L1192.4 1096.71 L1194.4 1096.9 L1196.4 1097.08 L1198.4 1097.27 L1200.4 1097.46 L1202.4 1097.64 L1204.4 1097.83 L1206.4 1098.01 L1208.4 1098.2 L1210.4 1098.38 L1212.4 1098.56 L1214.4 1098.74 L1216.4 1098.92 L1218.4 1099.1 L1220.4 1099.28 L1222.4 1099.46 L1224.4 1099.64 L1226.4 1099.82 L1228.4 1100 L1230.4 1100.18 L1232.4 1100.35 L1234.4 1100.53 L1236.4 1100.7 L1238.4 1100.88 L1240.4 1101.05 L1242.4 1101.23 L1244.4 1101.4 L1246.4 1101.57 L1248.4 1101.74 L1250.4 1101.91 L1252.4 1102.09 L1254.4 1102.26 L1256.4 1102.43 L1258.4 1102.59 L1260.4 1102.76 L1262.4 1102.93 L1264.4 1103.1 L1266.4 1103.27 L1268.4 1103.43 L1270.4 1103.6 L1272.4 1103.76 L1274.4 1103.93 L1276.4 1104.09 L1278.4 1104.26 L1280.4 1104.42 L1282.4 1104.58 L1284.4 1104.75 L1286.4 1104.91 L1288.4 1105.07 L1290.4 1105.23 L1292.4 1105.39 L1294.4 1105.55 L1296.4 1105.71 L1298.4 1105.87 L1300.4 1106.03 L1302.4 1106.19 L1304.4 1106.34 L1306.4 1106.5 L1308.4 1106.66 L1310.4 1106.81 L1312.4 1106.97 L1314.4 1107.13 L1316.4 1107.28 L1318.4 1107.44 L1320.4 1107.59 L1322.4 1107.74 L1324.4 1107.9 L1326.4 1108.05 L1328.4 1108.2 L1330.4 1108.35 L1332.4 1108.5 L1334.4 1108.65 L1336.4 1108.81 L1338.4 1108.96 L1340.4 1109.11 L1342.4 1109.25 L1344.4 1109.4 L1346.4 1109.55 L1348.4 1109.7 L1350.4 1109.85 L1352.4 1109.99 L1354.4 1110.14 L1356.4 1110.29 L1358.4 1110.43 L1360.4 1110.58 L1362.4 1110.72 L1364.4 1110.87 L1366.4 1111.01 L1368.4 1111.16 L1370.4 1111.3 L1372.4 1111.44 L1374.4 1111.59 L1376.4 1111.73 L1378.4 1111.87 L1380.4 1112.01 L1382.4 1112.15 L1384.4 1112.3 L1386.4 1112.44 L1388.4 1112.58 L1390.4 1112.72 L1392.4 1112.86 L1394.4 1112.99 L1396.4 1113.13 L1398.4 1113.27 L1400.4 1113.41 L1402.4 1113.55 L1404.4 1113.69 L1406.4 1113.82 L1408.4 1113.96 L1410.4 1114.09 L1412.4 1114.23 L1414.4 1114.37 L1416.4 1114.5 L1418.4 1114.64 L1420.4 1114.77 L1422.4 1114.91 L1424.4 1115.04 L1426.4 1115.17 L1428.4 1115.31 L1430.4 1115.44 L1432.4 1115.57 L1434.4 1115.7 L1436.4 1115.84 L1438.4 1115.97 L1440.4 1116.1 L1442.4 1116.23 L1444.4 1116.36 L1446.4 1116.49 L1448.4 1116.62 L1450.4 1116.75 L1452.4 1116.88 L1454.4 1117.01 L1456.4 1117.14 L1458.4 1117.27 L1460.4 1117.39 L1462.4 1117.52 L1464.4 1117.65 L1466.4 1117.78 L1468.4 1117.9 L1470.4 1118.03 L1472.4 1118.16 L1474.4 1118.28 L1476.4 1118.41 L1478.4 1118.53 L1480.4 1118.66 L1482.4 1118.78 L1484.4 1118.91 L1486.4 1119.03 L1488.4 1119.15 L1490.4 1119.28 L1492.4 1119.4 L1494.4 1119.52 L1496.4 1119.65 L1498.4 1119.77 L1500.4 1119.89 L1502.4 1120.01 L1504.4 1120.14 L1506.4 1120.26 L1508.4 1120.38 L1510.4 1120.5 L1512.4 1120.62 L1514.4 1120.74 L1516.4 1120.86 L1518.4 1120.98 L1520.4 1121.1 L1522.4 1121.22 L1524.4 1121.34 L1526.4 1121.46 L1528.4 1121.57 L1530.4 1121.69 L1532.4 1121.81 L1534.4 1121.93 L1536.4 1122.05 L1538.4 1122.16 L1540.4 1122.28 L1542.4 1122.4 L1544.4 1122.51 L1546.4 1122.63 L1548.4 1122.74 L1550.4 1122.86 L1552.4 1122.98 L1554.4 1123.09 L1556.4 1123.21 L1558.4 1123.32 L1560.4 1123.43 L1562.4 1123.55 L1564.4 1123.66 L1566.4 1123.78 L1568.4 1123.89 L1570.4 1124 L1572 1124.09" stroke="#00ff00" stroke-width="5.0"/>
<rect x="247.2" y="1250.2" width="31.6" height="31.6" stroke="#00ff00" stroke-width="4.9" stroke-linejoin="miter" fill="none"/>
<rect x="456.64" y="799.1" width="31.6" height="31.6" stroke="#00ff00" stroke-width="4.9" stroke-linejoin="miter" fill="none"/>
<rect x="666.08" y="986.2" width="31.6" height="31.6" stroke="#00ff00" stroke-width="4.9" stroke-linejoin="miter" fill="none"/>
<rect x="875.52" y="1041.7" width="31.6" height="31.6" stroke="#00ff00" stroke-width="4.9" stroke-linejoin="miter" fill="none"/>
<rect x="1084.96" y="1071.4" width="31.6" height="31.6" stroke="#00ff00" stroke-width="4.9" stroke-linejoin="miter" fill="none"/>
<rect x="1294.4" y="1091.2" width="31.6" height="31.6" stroke="#00ff00" stroke-width="4.9" stroke-linejoin="miter" fill="none"/>
<rect x="1503.84" y="1105.2" width="31.6" height="31.6" stroke="#00ff00" stroke-width="4.9" stroke-linejoin="miter" fill="none"/>
</g>
<g stroke="#000000" fill="none" shape-rendering="crispEdges">
<rect x="263" y="28" width="1309" height="1238" stroke-width="2"/>
<path d="M525.1 1266V1246M525.1 28V47M786.9 1266V1246M786.9 28V47M1048.7 1266V1246M1048.7 28V47M1310.5 1266V1246M1310.5 28V47M263 1058H283M263 850H283M263 642H283M263 434H283M263 226H283M1572 1059H1552M1572 852H1552M1572 646H1552M1572 439H1552M1572 232H1552" stroke-width="2"/>
</g>
<rect x="463.5" y="46.5" width="1082" height="179" fill="none" stroke="#000000" stroke-width="1" shape-rendering="crispEdges"/>
<g fill="none">
<path d="M855.5 74.5H979" stroke="#ff0000" stroke-width="5.0"/>
<path d="M901.2 58.7L932.8 90.3M901.2 90.3L932.8 58.7" stroke="#ff0000" stroke-width="4.9" fill="none"/>
<path d="M855.5 136.4H979" stroke="#0000ff" stroke-width="5.0"/>
<circle cx="917" cy="136.4" r="20.1" stroke="#0000ff" stroke-width="4.9" fill="none"/>
<path d="M855.5 198.3H979" stroke="#00ff00" stroke-width="5.0"/>
<rect x="901.2" y="182.5" width="31.6" height="31.6" stroke="#00ff00" stroke-width="4.9" stroke-linejoin="miter" fill="none"/>
<path d="M1396 74.5H1520" stroke="#000000" stroke-width="5.0"/>
<path d="M1396 136.6H1520" stroke="#000000" stroke-width="3.2" stroke-dasharray="3.7 6.17"/>
</g>
<g font-family='"DejaVu Sans", "Liberation Sans", sans-serif' fill="#000000">
<g font-size="41.0" text-anchor="end">
<text x="829" y="90.3">Atoms</text>
<text x="829" y="152.2">Electrons</text>
<text x="829" y="214.1">Carrier Density</text>
<text x="1370.5" y="90.3">Total</text>
<text x="1370.5" y="152.2">Laser shape</text>
</g>
<g font-size="68.5">
<text x="237" y="1291.3" text-anchor="end">0</text>
<text x="237" y="1083.3" text-anchor="end">0.2</text>
<text x="237" y="875.3" text-anchor="end">0.4</text>
<text x="237" y="667.3" text-anchor="end">0.6</text>
<text x="237" y="459.3" text-anchor="end">0.8</text>
<text x="237" y="251.3" text-anchor="end">1</text>
<text x="1595.5" y="1291.5">0</text>
<text x="1595.5" y="1084.5">8</text>
<text x="1595.5" y="877.5">16</text>
<text x="1595.5" y="671.5">24</text>
<text x="1595.5" y="464.5">32</text>
<text x="1595.5" y="257.5">40</text>
<text x="265.8" y="1349" text-anchor="middle">0</text>
<text x="527.6" y="1349" text-anchor="middle">1</text>
<text x="789.4" y="1349" text-anchor="middle">2</text>
<text x="1051.2" y="1349" text-anchor="middle">3</text>
<text x="1313" y="1349" text-anchor="middle">4</text>
<text x="1574.8" y="1349" text-anchor="middle">5</text>
</g>
<g font-size="68.15" text-anchor="middle">
<text x="917" y="1458">Time (ps)</text>
<text transform="translate(72,647) rotate(-90)">Energy density</text>
<text transform="translate(1804,658.6) rotate(-90)">Carrier Density (10<tspan font-size="54.6" dy="-25.7">26</tspan><tspan dy="25.7"> 1/m</tspan><tspan font-size="54.6" dy="-25.7">3</tspan><tspan dy="25.7">)</tspan></text>
</g>
</g>
</svg>
</body>
</html>
